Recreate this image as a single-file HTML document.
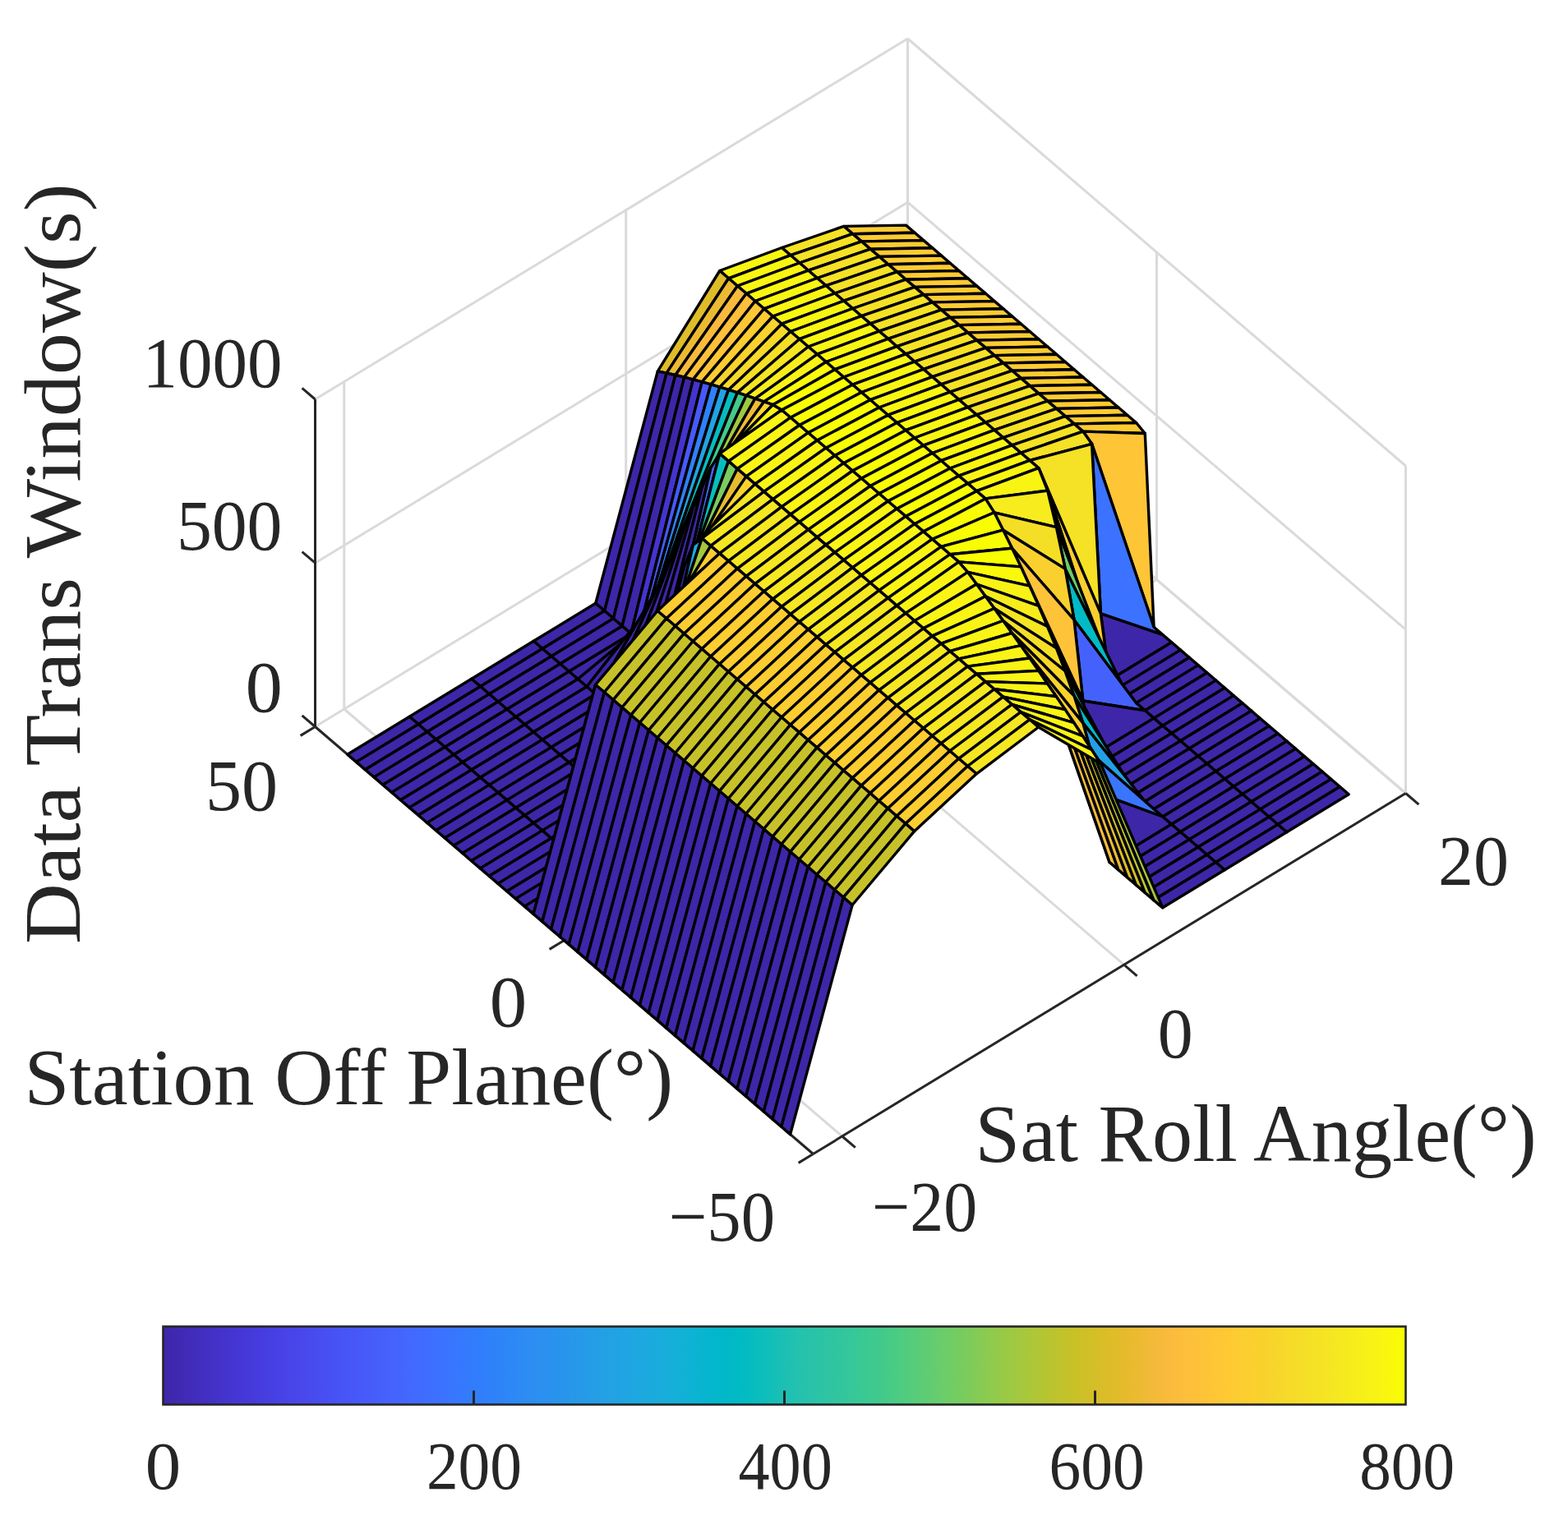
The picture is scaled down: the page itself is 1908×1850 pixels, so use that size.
<!DOCTYPE html>
<html><head><meta charset="utf-8"><title>Data Trans Window</title>
<style>html,body{margin:0;padding:0;background:#fff;}svg{display:block;}</style></head>
<body><svg xmlns="http://www.w3.org/2000/svg" width="1908" height="1850" viewBox="0 0 1908 1850">
<rect width="1908" height="1850" fill="#fff"/>
<line x1="383.5" y1="884.5" x2="1104.5" y2="445.5" stroke="#dadada" stroke-width="3.00"/>
<line x1="383.5" y1="685.2" x2="1104.5" y2="246.2" stroke="#dadada" stroke-width="3.00"/>
<line x1="383.5" y1="486.0" x2="1104.5" y2="47.0" stroke="#dadada" stroke-width="3.00"/>
<line x1="418.8" y1="863.0" x2="418.8" y2="464.5" stroke="#dadada" stroke-width="3.00"/>
<line x1="761.7" y1="654.2" x2="761.7" y2="255.7" stroke="#dadada" stroke-width="3.00"/>
<line x1="1104.5" y1="445.5" x2="1104.5" y2="47.0" stroke="#dadada" stroke-width="3.00"/>
<line x1="1104.5" y1="445.5" x2="1710.5" y2="965.5" stroke="#dadada" stroke-width="3.00"/>
<line x1="1104.5" y1="246.2" x2="1710.5" y2="766.2" stroke="#dadada" stroke-width="3.00"/>
<line x1="1104.5" y1="47.0" x2="1710.5" y2="567.0" stroke="#dadada" stroke-width="3.00"/>
<line x1="1407.5" y1="705.5" x2="1407.5" y2="307.0" stroke="#dadada" stroke-width="3.00"/>
<line x1="1710.5" y1="965.5" x2="1710.5" y2="567.0" stroke="#dadada" stroke-width="3.00"/>
<line x1="686.5" y1="1144.5" x2="1407.5" y2="705.5" stroke="#dadada" stroke-width="3.00"/>
<line x1="418.8" y1="863.0" x2="1024.8" y2="1383.0" stroke="#dadada" stroke-width="3.00"/>
<line x1="761.7" y1="654.2" x2="1367.7" y2="1174.2" stroke="#dadada" stroke-width="3.00"/>
<line x1="1104.5" y1="445.5" x2="1710.5" y2="965.5" stroke="#dadada" stroke-width="3.00"/>
<line x1="383.5" y1="884.5" x2="383.5" y2="486.0" stroke="#262626" stroke-width="3.00"/>
<line x1="383.5" y1="884.5" x2="989.5" y2="1404.5" stroke="#262626" stroke-width="3.00"/>
<line x1="989.5" y1="1404.5" x2="1710.5" y2="965.5" stroke="#262626" stroke-width="3.00"/>
<line x1="383.5" y1="884.5" x2="367.6" y2="870.8" stroke="#262626" stroke-width="3.00"/>
<line x1="383.5" y1="685.2" x2="367.6" y2="671.6" stroke="#262626" stroke-width="3.00"/>
<line x1="383.5" y1="486.0" x2="367.6" y2="472.3" stroke="#262626" stroke-width="3.00"/>
<line x1="383.5" y1="884.5" x2="365.6" y2="895.4" stroke="#262626" stroke-width="3.00"/>
<line x1="686.5" y1="1144.5" x2="668.6" y2="1155.4" stroke="#262626" stroke-width="3.00"/>
<line x1="989.5" y1="1404.5" x2="971.6" y2="1415.4" stroke="#262626" stroke-width="3.00"/>
<line x1="1024.8" y1="1383.0" x2="1040.8" y2="1396.7" stroke="#262626" stroke-width="3.00"/>
<line x1="1367.7" y1="1174.2" x2="1383.6" y2="1187.9" stroke="#262626" stroke-width="3.00"/>
<line x1="1710.5" y1="965.5" x2="1726.4" y2="979.2" stroke="#262626" stroke-width="3.00"/>
<polygon points="1026.9,275.4 1037.6,284.7 1113.1,283.3 1102.4,274.1" fill="#fdcb31" stroke="#000" stroke-width="3.4" stroke-linejoin="round"/>
<polygon points="1037.6,284.7 1048.4,293.9 1123.9,292.6 1113.1,283.3" fill="#fdcb31" stroke="#000" stroke-width="3.4" stroke-linejoin="round"/>
<polygon points="1048.4,293.9 1059.2,303.2 1134.7,301.8 1123.9,292.6" fill="#fdcb31" stroke="#000" stroke-width="3.4" stroke-linejoin="round"/>
<polygon points="1059.2,303.2 1070.0,312.4 1145.5,311.1 1134.7,301.8" fill="#fdcb31" stroke="#000" stroke-width="3.4" stroke-linejoin="round"/>
<polygon points="1070.0,312.4 1080.7,321.7 1156.2,320.3 1145.5,311.1" fill="#fdcb31" stroke="#000" stroke-width="3.4" stroke-linejoin="round"/>
<polygon points="951.3,301.5 962.1,310.7 1037.6,284.7 1026.9,275.4" fill="#f5e125" stroke="#000" stroke-width="3.4" stroke-linejoin="round"/>
<polygon points="1080.7,321.7 1091.5,330.9 1167.0,329.6 1156.2,320.3" fill="#fdcb31" stroke="#000" stroke-width="3.4" stroke-linejoin="round"/>
<polygon points="962.1,310.7 972.9,320.0 1048.4,293.9 1037.6,284.7" fill="#f5e125" stroke="#000" stroke-width="3.4" stroke-linejoin="round"/>
<polygon points="1091.5,330.9 1102.3,340.2 1177.8,338.8 1167.0,329.6" fill="#fdcb31" stroke="#000" stroke-width="3.4" stroke-linejoin="round"/>
<polygon points="972.9,320.0 983.7,329.2 1059.2,303.2 1048.4,293.9" fill="#f5e125" stroke="#000" stroke-width="3.4" stroke-linejoin="round"/>
<polygon points="1102.3,340.2 1113.1,349.4 1188.6,348.1 1177.8,338.8" fill="#fdcb31" stroke="#000" stroke-width="3.4" stroke-linejoin="round"/>
<polygon points="983.7,329.2 994.4,338.5 1070.0,312.4 1059.2,303.2" fill="#f5e125" stroke="#000" stroke-width="3.4" stroke-linejoin="round"/>
<polygon points="1113.1,349.4 1123.8,358.6 1199.4,357.3 1188.6,348.1" fill="#fdcb31" stroke="#000" stroke-width="3.4" stroke-linejoin="round"/>
<polygon points="994.4,338.5 1005.2,347.7 1080.7,321.7 1070.0,312.4" fill="#f5e125" stroke="#000" stroke-width="3.4" stroke-linejoin="round"/>
<polygon points="1123.8,358.6 1134.6,367.9 1210.1,366.6 1199.4,357.3" fill="#fdcb31" stroke="#000" stroke-width="3.4" stroke-linejoin="round"/>
<polygon points="875.8,329.5 886.6,338.8 962.1,310.7 951.3,301.5" fill="#f9f512" stroke="#000" stroke-width="3.4" stroke-linejoin="round"/>
<polygon points="1005.2,347.7 1016.0,357.0 1091.5,330.9 1080.7,321.7" fill="#f5e125" stroke="#000" stroke-width="3.4" stroke-linejoin="round"/>
<polygon points="1134.6,367.9 1145.4,377.1 1220.9,375.8 1210.1,366.6" fill="#fdcb31" stroke="#000" stroke-width="3.4" stroke-linejoin="round"/>
<polygon points="886.6,338.8 897.4,348.0 972.9,320.0 962.1,310.7" fill="#f9f512" stroke="#000" stroke-width="3.4" stroke-linejoin="round"/>
<polygon points="1016.0,357.0 1026.8,366.2 1102.3,340.2 1091.5,330.9" fill="#f5e125" stroke="#000" stroke-width="3.4" stroke-linejoin="round"/>
<polygon points="1145.4,377.1 1156.2,386.4 1231.7,385.0 1220.9,375.8" fill="#fdcb31" stroke="#000" stroke-width="3.4" stroke-linejoin="round"/>
<polygon points="897.4,348.0 908.2,357.3 983.7,329.2 972.9,320.0" fill="#f9f512" stroke="#000" stroke-width="3.4" stroke-linejoin="round"/>
<polygon points="1026.8,366.2 1037.6,375.5 1113.1,349.4 1102.3,340.2" fill="#f5e125" stroke="#000" stroke-width="3.4" stroke-linejoin="round"/>
<polygon points="1156.2,386.4 1167.0,395.6 1242.5,394.3 1231.7,385.0" fill="#fdcb31" stroke="#000" stroke-width="3.4" stroke-linejoin="round"/>
<polygon points="908.2,357.3 918.9,366.5 994.4,338.5 983.7,329.2" fill="#f9f512" stroke="#000" stroke-width="3.4" stroke-linejoin="round"/>
<polygon points="1037.6,375.5 1048.3,384.7 1123.8,358.6 1113.1,349.4" fill="#f5e125" stroke="#000" stroke-width="3.4" stroke-linejoin="round"/>
<polygon points="1167.0,395.6 1177.7,404.9 1253.2,403.5 1242.5,394.3" fill="#fdcb31" stroke="#000" stroke-width="3.4" stroke-linejoin="round"/>
<polygon points="918.9,366.5 929.7,375.8 1005.2,347.7 994.4,338.5" fill="#f9f512" stroke="#000" stroke-width="3.4" stroke-linejoin="round"/>
<polygon points="1048.3,384.7 1059.1,393.9 1134.6,367.9 1123.8,358.6" fill="#f5e125" stroke="#000" stroke-width="3.4" stroke-linejoin="round"/>
<polygon points="1177.7,404.9 1188.5,414.1 1264.0,412.8 1253.2,403.5" fill="#fdcb31" stroke="#000" stroke-width="3.4" stroke-linejoin="round"/>
<polygon points="800.3,451.9 811.1,454.1 886.6,338.8 875.8,329.5" fill="#dfbc29" stroke="#000" stroke-width="3.4" stroke-linejoin="round"/>
<polygon points="929.7,375.8 940.5,385.0 1016.0,357.0 1005.2,347.7" fill="#f9f512" stroke="#000" stroke-width="3.4" stroke-linejoin="round"/>
<polygon points="1059.1,393.9 1069.9,403.2 1145.4,377.1 1134.6,367.9" fill="#f5e125" stroke="#000" stroke-width="3.4" stroke-linejoin="round"/>
<polygon points="1188.5,414.1 1199.3,423.4 1274.8,422.0 1264.0,412.8" fill="#fdcb31" stroke="#000" stroke-width="3.4" stroke-linejoin="round"/>
<polygon points="811.1,454.1 821.9,456.5 897.4,348.0 886.6,338.8" fill="#ecba32" stroke="#000" stroke-width="3.4" stroke-linejoin="round"/>
<polygon points="940.5,385.0 951.3,394.2 1026.8,366.2 1016.0,357.0" fill="#f9f512" stroke="#000" stroke-width="3.4" stroke-linejoin="round"/>
<polygon points="1069.9,403.2 1080.7,412.4 1156.2,386.4 1145.4,377.1" fill="#f5e125" stroke="#000" stroke-width="3.4" stroke-linejoin="round"/>
<polygon points="1199.3,423.4 1210.1,432.6 1285.6,431.3 1274.8,422.0" fill="#fdcb31" stroke="#000" stroke-width="3.4" stroke-linejoin="round"/>
<polygon points="821.9,456.5 832.7,459.1 908.2,357.3 897.4,348.0" fill="#f8ba3d" stroke="#000" stroke-width="3.4" stroke-linejoin="round"/>
<polygon points="951.3,394.2 962.0,403.5 1037.6,375.5 1026.8,366.2" fill="#f9f512" stroke="#000" stroke-width="3.4" stroke-linejoin="round"/>
<polygon points="1080.7,412.4 1091.4,421.7 1167.0,395.6 1156.2,386.4" fill="#f5e125" stroke="#000" stroke-width="3.4" stroke-linejoin="round"/>
<polygon points="1210.1,432.6 1220.8,441.9 1296.3,440.5 1285.6,431.3" fill="#fdcb31" stroke="#000" stroke-width="3.4" stroke-linejoin="round"/>
<polygon points="832.7,459.1 843.4,461.9 918.9,366.5 908.2,357.3" fill="#febf3b" stroke="#000" stroke-width="3.4" stroke-linejoin="round"/>
<polygon points="962.0,403.5 972.8,412.7 1048.3,384.7 1037.6,375.5" fill="#f9f512" stroke="#000" stroke-width="3.4" stroke-linejoin="round"/>
<polygon points="1091.4,421.7 1102.2,430.9 1177.7,404.9 1167.0,395.6" fill="#f5e125" stroke="#000" stroke-width="3.4" stroke-linejoin="round"/>
<polygon points="1220.8,441.9 1231.6,451.1 1307.1,449.8 1296.3,440.5" fill="#fdcb31" stroke="#000" stroke-width="3.4" stroke-linejoin="round"/>
<polygon points="843.4,461.9 854.2,464.8 929.7,375.8 918.9,366.5" fill="#fec636" stroke="#000" stroke-width="3.4" stroke-linejoin="round"/>
<polygon points="972.8,412.7 983.6,422.0 1059.1,393.9 1048.3,384.7" fill="#f9f512" stroke="#000" stroke-width="3.4" stroke-linejoin="round"/>
<polygon points="1102.2,430.9 1113.0,440.2 1188.5,414.1 1177.7,404.9" fill="#f5e125" stroke="#000" stroke-width="3.4" stroke-linejoin="round"/>
<polygon points="1231.6,451.1 1242.4,460.4 1317.9,459.0 1307.1,449.8" fill="#fdcb31" stroke="#000" stroke-width="3.4" stroke-linejoin="round"/>
<polygon points="724.8,734.3 735.6,743.5 811.1,454.1 800.3,451.9" fill="#3e26a8" stroke="#000" stroke-width="3.4" stroke-linejoin="round"/>
<polygon points="854.2,464.8 865.0,467.9 940.5,385.0 929.7,375.8" fill="#fdcc31" stroke="#000" stroke-width="3.4" stroke-linejoin="round"/>
<polygon points="983.6,422.0 994.4,431.2 1069.9,403.2 1059.1,393.9" fill="#f9f512" stroke="#000" stroke-width="3.4" stroke-linejoin="round"/>
<polygon points="1113.0,440.2 1123.8,449.4 1199.3,423.4 1188.5,414.1" fill="#f5e125" stroke="#000" stroke-width="3.4" stroke-linejoin="round"/>
<polygon points="1242.4,460.4 1253.2,469.6 1328.7,468.3 1317.9,459.0" fill="#fdcb31" stroke="#000" stroke-width="3.4" stroke-linejoin="round"/>
<polygon points="735.6,743.5 746.4,752.8 821.9,456.5 811.1,454.1" fill="#3e26a8" stroke="#000" stroke-width="3.4" stroke-linejoin="round"/>
<polygon points="865.0,467.9 875.8,471.1 951.3,394.2 940.5,385.0" fill="#f9d22d" stroke="#000" stroke-width="3.4" stroke-linejoin="round"/>
<polygon points="994.4,431.2 1005.2,440.5 1080.7,412.4 1069.9,403.2" fill="#f9f512" stroke="#000" stroke-width="3.4" stroke-linejoin="round"/>
<polygon points="1123.8,449.4 1134.6,458.7 1210.1,432.6 1199.3,423.4" fill="#f5e125" stroke="#000" stroke-width="3.4" stroke-linejoin="round"/>
<polygon points="1253.2,469.6 1263.9,478.9 1339.5,477.5 1328.7,468.3" fill="#fdcb31" stroke="#000" stroke-width="3.4" stroke-linejoin="round"/>
<polygon points="746.4,752.8 757.1,762.0 832.7,459.1 821.9,456.5" fill="#3e26a8" stroke="#000" stroke-width="3.4" stroke-linejoin="round"/>
<polygon points="875.8,471.1 886.5,474.4 962.0,403.5 951.3,394.2" fill="#f6d929" stroke="#000" stroke-width="3.4" stroke-linejoin="round"/>
<polygon points="1005.2,440.5 1015.9,449.7 1091.4,421.7 1080.7,412.4" fill="#f9f512" stroke="#000" stroke-width="3.4" stroke-linejoin="round"/>
<polygon points="1134.6,458.7 1145.3,467.9 1220.8,441.9 1210.1,432.6" fill="#f5e125" stroke="#000" stroke-width="3.4" stroke-linejoin="round"/>
<polygon points="1263.9,478.9 1274.7,488.1 1350.2,486.8 1339.5,477.5" fill="#fdcb31" stroke="#000" stroke-width="3.4" stroke-linejoin="round"/>
<polygon points="757.1,762.0 767.9,771.3 843.4,461.9 832.7,459.1" fill="#3e26a8" stroke="#000" stroke-width="3.4" stroke-linejoin="round"/>
<polygon points="886.5,474.4 897.3,477.9 972.8,412.7 962.0,403.5" fill="#f5df26" stroke="#000" stroke-width="3.4" stroke-linejoin="round"/>
<polygon points="1015.9,449.7 1026.7,459.0 1102.2,430.9 1091.4,421.7" fill="#f9f512" stroke="#000" stroke-width="3.4" stroke-linejoin="round"/>
<polygon points="1145.3,467.9 1156.1,477.2 1231.6,451.1 1220.8,441.9" fill="#f5e125" stroke="#000" stroke-width="3.4" stroke-linejoin="round"/>
<polygon points="1274.7,488.1 1285.5,497.4 1361.0,496.0 1350.2,486.8" fill="#fdcb31" stroke="#000" stroke-width="3.4" stroke-linejoin="round"/>
<polygon points="767.9,771.3 778.7,764.1 854.2,464.8 843.4,461.9" fill="#4434ce" stroke="#000" stroke-width="3.4" stroke-linejoin="round"/>
<polygon points="897.3,477.9 908.1,481.4 983.6,422.0 972.8,412.7" fill="#f5e622" stroke="#000" stroke-width="3.4" stroke-linejoin="round"/>
<polygon points="1026.7,459.0 1037.5,468.2 1113.0,440.2 1102.2,430.9" fill="#f9f512" stroke="#000" stroke-width="3.4" stroke-linejoin="round"/>
<polygon points="1156.1,477.2 1166.9,486.4 1242.4,460.4 1231.6,451.1" fill="#f5e125" stroke="#000" stroke-width="3.4" stroke-linejoin="round"/>
<polygon points="1285.5,497.4 1296.3,506.6 1371.8,505.3 1361.0,496.0" fill="#fdcb31" stroke="#000" stroke-width="3.4" stroke-linejoin="round"/>
<polygon points="649.3,780.3 660.1,789.5 735.6,743.5 724.8,734.3" fill="#3e26a8" stroke="#000" stroke-width="3.4" stroke-linejoin="round"/>
<polygon points="778.7,764.1 789.5,739.7 865.0,467.9 854.2,464.8" fill="#4759f8" stroke="#000" stroke-width="3.4" stroke-linejoin="round"/>
<polygon points="908.1,481.4 918.9,485.1 994.4,431.2 983.6,422.0" fill="#f7ec1d" stroke="#000" stroke-width="3.4" stroke-linejoin="round"/>
<polygon points="1037.5,468.2 1048.3,477.5 1123.8,449.4 1113.0,440.2" fill="#f9f512" stroke="#000" stroke-width="3.4" stroke-linejoin="round"/>
<polygon points="1166.9,486.4 1177.7,495.7 1253.2,469.6 1242.4,460.4" fill="#f5e125" stroke="#000" stroke-width="3.4" stroke-linejoin="round"/>
<polygon points="1296.3,506.6 1307.1,515.9 1382.6,514.5 1371.8,505.3" fill="#fdcb31" stroke="#000" stroke-width="3.4" stroke-linejoin="round"/>
<polygon points="660.1,789.5 670.9,798.8 746.4,752.8 735.6,743.5" fill="#3e26a8" stroke="#000" stroke-width="3.4" stroke-linejoin="round"/>
<polygon points="789.5,739.7 800.2,715.4 875.8,471.1 865.0,467.9" fill="#2f81fa" stroke="#000" stroke-width="3.4" stroke-linejoin="round"/>
<polygon points="918.9,485.1 929.6,488.9 1005.2,440.5 994.4,431.2" fill="#f9f216" stroke="#000" stroke-width="3.4" stroke-linejoin="round"/>
<polygon points="1048.3,477.5 1059.0,486.7 1134.6,458.7 1123.8,449.4" fill="#f9f512" stroke="#000" stroke-width="3.4" stroke-linejoin="round"/>
<polygon points="1177.7,495.7 1188.4,504.9 1263.9,478.9 1253.2,469.6" fill="#f5e125" stroke="#000" stroke-width="3.4" stroke-linejoin="round"/>
<polygon points="1307.1,515.9 1317.8,525.1 1393.3,527.5 1382.6,514.5" fill="#fdcb31" stroke="#000" stroke-width="3.4" stroke-linejoin="round"/>
<polygon points="670.9,798.8 681.6,808.0 757.1,762.0 746.4,752.8" fill="#3e26a8" stroke="#000" stroke-width="3.4" stroke-linejoin="round"/>
<polygon points="800.2,715.4 811.0,691.0 886.5,474.4 875.8,471.1" fill="#21a3e3" stroke="#000" stroke-width="3.4" stroke-linejoin="round"/>
<polygon points="929.6,488.9 940.4,492.7 1015.9,449.7 1005.2,440.5" fill="#faf90c" stroke="#000" stroke-width="3.4" stroke-linejoin="round"/>
<polygon points="1059.0,486.7 1069.8,496.0 1145.3,467.9 1134.6,458.7" fill="#f9f512" stroke="#000" stroke-width="3.4" stroke-linejoin="round"/>
<polygon points="1188.4,504.9 1199.2,514.2 1274.7,488.1 1263.9,478.9" fill="#f5e125" stroke="#000" stroke-width="3.4" stroke-linejoin="round"/>
<polygon points="1317.8,525.1 1328.6,540.3 1404.1,763.3 1393.3,527.5" fill="#fec536" stroke="#000" stroke-width="3.4" stroke-linejoin="round"/>
<polygon points="681.6,808.0 692.4,817.3 767.9,771.3 757.1,762.0" fill="#3e26a8" stroke="#000" stroke-width="3.4" stroke-linejoin="round"/>
<polygon points="811.0,691.0 821.8,666.7 897.3,477.9 886.5,474.4" fill="#05bcc0" stroke="#000" stroke-width="3.4" stroke-linejoin="round"/>
<polygon points="940.4,492.7 951.2,499.0 1026.7,459.0 1015.9,449.7" fill="#f9fd03" stroke="#000" stroke-width="3.4" stroke-linejoin="round"/>
<polygon points="1069.8,496.0 1080.6,505.2 1156.1,477.2 1145.3,467.9" fill="#f9f512" stroke="#000" stroke-width="3.4" stroke-linejoin="round"/>
<polygon points="1199.2,514.2 1210.0,523.4 1285.5,497.4 1274.7,488.1" fill="#f5e125" stroke="#000" stroke-width="3.4" stroke-linejoin="round"/>
<polygon points="1328.6,540.3 1339.4,746.8 1414.9,772.6 1404.1,763.3" fill="#3b72ff" stroke="#000" stroke-width="3.4" stroke-linejoin="round"/>
<polygon points="692.4,817.3 703.2,826.5 778.7,764.1 767.9,771.3" fill="#3e26a8" stroke="#000" stroke-width="3.4" stroke-linejoin="round"/>
<polygon points="821.8,666.7 832.6,642.4 908.1,481.4 897.3,477.9" fill="#42ca8b" stroke="#000" stroke-width="3.4" stroke-linejoin="round"/>
<polygon points="951.2,499.0 962.0,508.2 1037.5,468.2 1026.7,459.0" fill="#f9fd03" stroke="#000" stroke-width="3.4" stroke-linejoin="round"/>
<polygon points="1080.6,505.2 1091.4,514.5 1166.9,486.4 1156.1,477.2" fill="#f9f512" stroke="#000" stroke-width="3.4" stroke-linejoin="round"/>
<polygon points="1210.0,523.4 1220.8,532.7 1296.3,506.6 1285.5,497.4" fill="#f5e125" stroke="#000" stroke-width="3.4" stroke-linejoin="round"/>
<polygon points="1339.4,746.8 1350.2,827.8 1425.7,781.8 1414.9,772.6" fill="#3e26a8" stroke="#000" stroke-width="3.4" stroke-linejoin="round"/>
<polygon points="573.8,826.2 584.6,835.5 660.1,789.5 649.3,780.3" fill="#3e26a8" stroke="#000" stroke-width="3.4" stroke-linejoin="round"/>
<polygon points="703.2,826.5 714.0,835.8 789.5,739.7 778.7,764.1" fill="#3e26a8" stroke="#000" stroke-width="3.4" stroke-linejoin="round"/>
<polygon points="832.6,642.4 843.4,618.0 918.9,485.1 908.1,481.4" fill="#9fc942" stroke="#000" stroke-width="3.4" stroke-linejoin="round"/>
<polygon points="962.0,508.2 972.8,517.5 1048.3,477.5 1037.5,468.2" fill="#f9fd03" stroke="#000" stroke-width="3.4" stroke-linejoin="round"/>
<polygon points="1091.4,514.5 1102.1,523.7 1177.7,495.7 1166.9,486.4" fill="#f9f512" stroke="#000" stroke-width="3.4" stroke-linejoin="round"/>
<polygon points="1220.8,532.7 1231.5,541.9 1307.1,515.9 1296.3,506.6" fill="#f5e125" stroke="#000" stroke-width="3.4" stroke-linejoin="round"/>
<polygon points="1350.2,827.8 1360.9,837.1 1436.5,791.1 1425.7,781.8" fill="#3e26a8" stroke="#000" stroke-width="3.4" stroke-linejoin="round"/>
<polygon points="584.6,835.5 595.3,844.7 670.9,798.8 660.1,789.5" fill="#3e26a8" stroke="#000" stroke-width="3.4" stroke-linejoin="round"/>
<polygon points="714.0,835.8 724.7,845.0 800.2,715.4 789.5,739.7" fill="#3e26a8" stroke="#000" stroke-width="3.4" stroke-linejoin="round"/>
<polygon points="843.4,618.0 854.1,593.7 929.6,488.9 918.9,485.1" fill="#efba34" stroke="#000" stroke-width="3.4" stroke-linejoin="round"/>
<polygon points="972.8,517.5 983.5,526.7 1059.0,486.7 1048.3,477.5" fill="#f9fd03" stroke="#000" stroke-width="3.4" stroke-linejoin="round"/>
<polygon points="1102.1,523.7 1112.9,533.0 1188.4,504.9 1177.7,495.7" fill="#f9f512" stroke="#000" stroke-width="3.4" stroke-linejoin="round"/>
<polygon points="1231.5,541.9 1242.3,551.2 1317.8,525.1 1307.1,515.9" fill="#f5e125" stroke="#000" stroke-width="3.4" stroke-linejoin="round"/>
<polygon points="1360.9,837.1 1371.7,846.3 1447.2,800.3 1436.5,791.1" fill="#3e26a8" stroke="#000" stroke-width="3.4" stroke-linejoin="round"/>
<polygon points="595.3,844.7 606.1,854.0 681.6,808.0 670.9,798.8" fill="#3e26a8" stroke="#000" stroke-width="3.4" stroke-linejoin="round"/>
<polygon points="724.7,845.0 735.5,854.2 811.0,691.0 800.2,715.4" fill="#3e26a8" stroke="#000" stroke-width="3.4" stroke-linejoin="round"/>
<polygon points="854.1,593.7 864.9,569.3 940.4,492.7 929.6,488.9" fill="#f8d62b" stroke="#000" stroke-width="3.4" stroke-linejoin="round"/>
<polygon points="983.5,526.7 994.3,536.0 1069.8,496.0 1059.0,486.7" fill="#f9fd03" stroke="#000" stroke-width="3.4" stroke-linejoin="round"/>
<polygon points="1112.9,533.0 1123.7,542.2 1199.2,514.2 1188.4,504.9" fill="#f9f512" stroke="#000" stroke-width="3.4" stroke-linejoin="round"/>
<polygon points="1242.3,551.2 1253.1,560.4 1328.6,540.3 1317.8,525.1" fill="#f5e125" stroke="#000" stroke-width="3.4" stroke-linejoin="round"/>
<polygon points="1371.7,846.3 1382.5,855.6 1458.0,809.6 1447.2,800.3" fill="#3e26a8" stroke="#000" stroke-width="3.4" stroke-linejoin="round"/>
<polygon points="606.1,854.0 616.9,863.2 692.4,817.3 681.6,808.0" fill="#3e26a8" stroke="#000" stroke-width="3.4" stroke-linejoin="round"/>
<polygon points="735.5,854.2 746.3,863.5 821.8,666.7 811.0,691.0" fill="#3e26a8" stroke="#000" stroke-width="3.4" stroke-linejoin="round"/>
<polygon points="864.9,569.3 875.7,552.1 951.2,499.0 940.4,492.7" fill="#f9f414" stroke="#000" stroke-width="3.4" stroke-linejoin="round"/>
<polygon points="994.3,536.0 1005.1,545.2 1080.6,505.2 1069.8,496.0" fill="#f9fd03" stroke="#000" stroke-width="3.4" stroke-linejoin="round"/>
<polygon points="1123.7,542.2 1134.5,551.5 1210.0,523.4 1199.2,514.2" fill="#f9f512" stroke="#000" stroke-width="3.4" stroke-linejoin="round"/>
<polygon points="1253.1,560.4 1263.9,569.7 1339.4,746.8 1328.6,540.3" fill="#f5e125" stroke="#000" stroke-width="3.4" stroke-linejoin="round"/>
<polygon points="1382.5,855.6 1393.3,864.8 1468.8,818.8 1458.0,809.6" fill="#3e26a8" stroke="#000" stroke-width="3.4" stroke-linejoin="round"/>
<polygon points="616.9,863.2 627.7,872.5 703.2,826.5 692.4,817.3" fill="#3e26a8" stroke="#000" stroke-width="3.4" stroke-linejoin="round"/>
<polygon points="746.3,863.5 757.1,872.7 832.6,642.4 821.8,666.7" fill="#3e26a8" stroke="#000" stroke-width="3.4" stroke-linejoin="round"/>
<polygon points="875.7,552.1 886.5,561.4 962.0,508.2 951.2,499.0" fill="#f9f414" stroke="#000" stroke-width="3.4" stroke-linejoin="round"/>
<polygon points="1005.1,545.2 1015.9,554.5 1091.4,514.5 1080.6,505.2" fill="#f9fd03" stroke="#000" stroke-width="3.4" stroke-linejoin="round"/>
<polygon points="1134.5,551.5 1145.3,560.7 1220.8,532.7 1210.0,523.4" fill="#f9f512" stroke="#000" stroke-width="3.4" stroke-linejoin="round"/>
<polygon points="1263.9,569.7 1274.7,597.1 1350.2,827.8 1339.4,746.8" fill="#fccd30" stroke="#000" stroke-width="3.4" stroke-linejoin="round"/>
<polygon points="1393.3,864.8 1404.1,874.1 1479.6,828.1 1468.8,818.8" fill="#3e26a8" stroke="#000" stroke-width="3.4" stroke-linejoin="round"/>
<polygon points="498.3,872.2 509.1,881.5 584.6,835.5 573.8,826.2" fill="#3e26a8" stroke="#000" stroke-width="3.4" stroke-linejoin="round"/>
<polygon points="627.7,872.5 638.5,881.7 714.0,835.8 703.2,826.5" fill="#3e26a8" stroke="#000" stroke-width="3.4" stroke-linejoin="round"/>
<polygon points="757.1,872.7 767.8,882.0 843.4,618.0 832.6,642.4" fill="#3e26a8" stroke="#000" stroke-width="3.4" stroke-linejoin="round"/>
<polygon points="886.5,561.4 897.2,570.6 972.8,517.5 962.0,508.2" fill="#f9f414" stroke="#000" stroke-width="3.4" stroke-linejoin="round"/>
<polygon points="1015.9,554.5 1026.6,563.7 1102.1,523.7 1091.4,514.5" fill="#f9fd03" stroke="#000" stroke-width="3.4" stroke-linejoin="round"/>
<polygon points="1145.3,560.7 1156.0,570.0 1231.5,541.9 1220.8,532.7" fill="#f9f512" stroke="#000" stroke-width="3.4" stroke-linejoin="round"/>
<polygon points="1274.7,597.1 1285.4,641.7 1360.9,837.1 1350.2,827.8" fill="#dabd28" stroke="#000" stroke-width="3.4" stroke-linejoin="round"/>
<polygon points="1404.1,874.1 1414.8,883.3 1490.3,837.3 1479.6,828.1" fill="#3e26a8" stroke="#000" stroke-width="3.4" stroke-linejoin="round"/>
<polygon points="509.1,881.5 519.8,890.7 595.3,844.7 584.6,835.5" fill="#3e26a8" stroke="#000" stroke-width="3.4" stroke-linejoin="round"/>
<polygon points="638.5,881.7 649.2,891.0 724.7,845.0 714.0,835.8" fill="#3e26a8" stroke="#000" stroke-width="3.4" stroke-linejoin="round"/>
<polygon points="767.8,882.0 778.6,891.2 854.1,593.7 843.4,618.0" fill="#3e26a8" stroke="#000" stroke-width="3.4" stroke-linejoin="round"/>
<polygon points="897.2,570.6 908.0,579.9 983.5,526.7 972.8,517.5" fill="#f9f414" stroke="#000" stroke-width="3.4" stroke-linejoin="round"/>
<polygon points="1026.6,563.7 1037.4,573.0 1112.9,533.0 1102.1,523.7" fill="#f9fd03" stroke="#000" stroke-width="3.4" stroke-linejoin="round"/>
<polygon points="1156.0,570.0 1166.8,579.2 1242.3,551.2 1231.5,541.9" fill="#f9f512" stroke="#000" stroke-width="3.4" stroke-linejoin="round"/>
<polygon points="1285.4,641.7 1296.2,692.4 1371.7,846.3 1360.9,837.1" fill="#69cd6a" stroke="#000" stroke-width="3.4" stroke-linejoin="round"/>
<polygon points="1414.8,883.3 1425.6,892.5 1501.1,846.6 1490.3,837.3" fill="#3e26a8" stroke="#000" stroke-width="3.4" stroke-linejoin="round"/>
<polygon points="519.8,890.7 530.6,900.0 606.1,854.0 595.3,844.7" fill="#3e26a8" stroke="#000" stroke-width="3.4" stroke-linejoin="round"/>
<polygon points="649.2,891.0 660.0,900.2 735.5,854.2 724.7,845.0" fill="#3e26a8" stroke="#000" stroke-width="3.4" stroke-linejoin="round"/>
<polygon points="778.6,891.2 789.4,900.5 864.9,569.3 854.1,593.7" fill="#3e26a8" stroke="#000" stroke-width="3.4" stroke-linejoin="round"/>
<polygon points="908.0,579.9 918.8,589.1 994.3,536.0 983.5,526.7" fill="#f9f414" stroke="#000" stroke-width="3.4" stroke-linejoin="round"/>
<polygon points="1037.4,573.0 1048.2,582.2 1123.7,542.2 1112.9,533.0" fill="#f9fd03" stroke="#000" stroke-width="3.4" stroke-linejoin="round"/>
<polygon points="1166.8,579.2 1177.6,588.4 1253.1,560.4 1242.3,551.2" fill="#f9f512" stroke="#000" stroke-width="3.4" stroke-linejoin="round"/>
<polygon points="1296.2,692.4 1307.0,754.4 1382.5,855.6 1371.7,846.3" fill="#01bac5" stroke="#000" stroke-width="3.4" stroke-linejoin="round"/>
<polygon points="1425.6,892.5 1436.4,901.8 1511.9,855.8 1501.1,846.6" fill="#3e26a8" stroke="#000" stroke-width="3.4" stroke-linejoin="round"/>
<polygon points="530.6,900.0 541.4,909.2 616.9,863.2 606.1,854.0" fill="#3e26a8" stroke="#000" stroke-width="3.4" stroke-linejoin="round"/>
<polygon points="660.0,900.2 670.8,909.5 746.3,863.5 735.5,854.2" fill="#3e26a8" stroke="#000" stroke-width="3.4" stroke-linejoin="round"/>
<polygon points="789.4,900.5 800.2,846.1 875.7,552.1 864.9,569.3" fill="#4368fe" stroke="#000" stroke-width="3.4" stroke-linejoin="round"/>
<polygon points="918.8,589.1 929.6,598.4 1005.1,545.2 994.3,536.0" fill="#f9f414" stroke="#000" stroke-width="3.4" stroke-linejoin="round"/>
<polygon points="1048.2,582.2 1059.0,591.5 1134.5,551.5 1123.7,542.2" fill="#f9fd03" stroke="#000" stroke-width="3.4" stroke-linejoin="round"/>
<polygon points="1177.6,588.4 1188.4,597.7 1263.9,569.7 1253.1,560.4" fill="#f9f512" stroke="#000" stroke-width="3.4" stroke-linejoin="round"/>
<polygon points="1307.0,754.4 1317.8,853.0 1393.3,864.8 1382.5,855.6" fill="#4561fc" stroke="#000" stroke-width="3.4" stroke-linejoin="round"/>
<polygon points="1436.4,901.8 1447.2,911.0 1522.7,865.1 1511.9,855.8" fill="#3e26a8" stroke="#000" stroke-width="3.4" stroke-linejoin="round"/>
<polygon points="541.4,909.2 552.2,918.5 627.7,872.5 616.9,863.2" fill="#3e26a8" stroke="#000" stroke-width="3.4" stroke-linejoin="round"/>
<polygon points="670.8,909.5 681.6,918.7 757.1,872.7 746.3,863.5" fill="#3e26a8" stroke="#000" stroke-width="3.4" stroke-linejoin="round"/>
<polygon points="800.2,846.1 811.0,767.0 886.5,561.4 875.7,552.1" fill="#08bcbe" stroke="#000" stroke-width="3.4" stroke-linejoin="round"/>
<polygon points="929.6,598.4 940.4,607.6 1015.9,554.5 1005.1,545.2" fill="#f9f414" stroke="#000" stroke-width="3.4" stroke-linejoin="round"/>
<polygon points="1059.0,591.5 1069.7,600.7 1145.3,560.7 1134.5,551.5" fill="#f9fd03" stroke="#000" stroke-width="3.4" stroke-linejoin="round"/>
<polygon points="1188.4,597.7 1199.1,606.9 1274.7,597.1 1263.9,569.7" fill="#f9f512" stroke="#000" stroke-width="3.4" stroke-linejoin="round"/>
<polygon points="1317.8,853.0 1328.5,920.0 1404.1,874.1 1393.3,864.8" fill="#3e26a8" stroke="#000" stroke-width="3.4" stroke-linejoin="round"/>
<polygon points="1447.2,911.0 1457.9,920.3 1533.4,874.3 1522.7,865.1" fill="#3e26a8" stroke="#000" stroke-width="3.4" stroke-linejoin="round"/>
<polygon points="422.8,918.2 433.5,927.4 509.1,881.5 498.3,872.2" fill="#3e26a8" stroke="#000" stroke-width="3.4" stroke-linejoin="round"/>
<polygon points="552.2,918.5 562.9,927.7 638.5,881.7 627.7,872.5" fill="#3e26a8" stroke="#000" stroke-width="3.4" stroke-linejoin="round"/>
<polygon points="681.6,918.7 692.3,928.0 767.8,882.0 757.1,872.7" fill="#3e26a8" stroke="#000" stroke-width="3.4" stroke-linejoin="round"/>
<polygon points="811.0,767.0 821.7,722.9 897.2,570.6 886.5,561.4" fill="#79cc5e" stroke="#000" stroke-width="3.4" stroke-linejoin="round"/>
<polygon points="940.4,607.6 951.1,616.9 1026.6,563.7 1015.9,554.5" fill="#f9f414" stroke="#000" stroke-width="3.4" stroke-linejoin="round"/>
<polygon points="1069.7,600.7 1080.5,610.0 1156.0,570.0 1145.3,560.7" fill="#f9fd03" stroke="#000" stroke-width="3.4" stroke-linejoin="round"/>
<polygon points="1199.1,606.9 1209.9,623.8 1285.4,641.7 1274.7,597.1" fill="#f7ec1d" stroke="#000" stroke-width="3.4" stroke-linejoin="round"/>
<polygon points="1328.5,920.0 1339.3,929.3 1414.8,883.3 1404.1,874.1" fill="#3e26a8" stroke="#000" stroke-width="3.4" stroke-linejoin="round"/>
<polygon points="1457.9,920.3 1468.7,929.5 1544.2,883.6 1533.4,874.3" fill="#3e26a8" stroke="#000" stroke-width="3.4" stroke-linejoin="round"/>
<polygon points="433.5,927.4 444.3,936.7 519.8,890.7 509.1,881.5" fill="#3e26a8" stroke="#000" stroke-width="3.4" stroke-linejoin="round"/>
<polygon points="562.9,927.7 573.7,937.0 649.2,891.0 638.5,881.7" fill="#3e26a8" stroke="#000" stroke-width="3.4" stroke-linejoin="round"/>
<polygon points="692.3,928.0 703.1,937.2 778.6,891.2 767.8,882.0" fill="#3e26a8" stroke="#000" stroke-width="3.4" stroke-linejoin="round"/>
<polygon points="821.7,722.9 832.5,690.1 908.0,579.9 897.2,570.6" fill="#e7bb2d" stroke="#000" stroke-width="3.4" stroke-linejoin="round"/>
<polygon points="951.1,616.9 961.9,626.1 1037.4,573.0 1026.6,563.7" fill="#f9f414" stroke="#000" stroke-width="3.4" stroke-linejoin="round"/>
<polygon points="1080.5,610.0 1091.3,619.2 1166.8,579.2 1156.0,570.0" fill="#f9fd03" stroke="#000" stroke-width="3.4" stroke-linejoin="round"/>
<polygon points="1209.9,623.8 1220.7,645.2 1296.2,692.4 1285.4,641.7" fill="#f5de26" stroke="#000" stroke-width="3.4" stroke-linejoin="round"/>
<polygon points="1339.3,929.3 1350.1,938.5 1425.6,892.5 1414.8,883.3" fill="#3e26a8" stroke="#000" stroke-width="3.4" stroke-linejoin="round"/>
<polygon points="1468.7,929.5 1479.5,938.8 1555.0,892.8 1544.2,883.6" fill="#3e26a8" stroke="#000" stroke-width="3.4" stroke-linejoin="round"/>
<polygon points="444.3,936.7 455.1,945.9 530.6,900.0 519.8,890.7" fill="#3e26a8" stroke="#000" stroke-width="3.4" stroke-linejoin="round"/>
<polygon points="573.7,937.0 584.5,946.2 660.0,900.2 649.2,891.0" fill="#3e26a8" stroke="#000" stroke-width="3.4" stroke-linejoin="round"/>
<polygon points="703.1,937.2 713.9,946.5 789.4,900.5 778.6,891.2" fill="#3e26a8" stroke="#000" stroke-width="3.4" stroke-linejoin="round"/>
<polygon points="832.5,690.1 843.3,663.4 918.8,589.1 908.0,579.9" fill="#f9d42c" stroke="#000" stroke-width="3.4" stroke-linejoin="round"/>
<polygon points="961.9,626.1 972.7,635.4 1048.2,582.2 1037.4,573.0" fill="#f9f414" stroke="#000" stroke-width="3.4" stroke-linejoin="round"/>
<polygon points="1091.3,619.2 1102.1,628.4 1177.6,588.4 1166.8,579.2" fill="#f9fd03" stroke="#000" stroke-width="3.4" stroke-linejoin="round"/>
<polygon points="1220.7,645.2 1231.5,667.3 1307.0,754.4 1296.2,692.4" fill="#fad02e" stroke="#000" stroke-width="3.4" stroke-linejoin="round"/>
<polygon points="1350.1,938.5 1360.9,947.8 1436.4,901.8 1425.6,892.5" fill="#3e26a8" stroke="#000" stroke-width="3.4" stroke-linejoin="round"/>
<polygon points="1479.5,938.8 1490.3,948.0 1565.8,902.1 1555.0,892.8" fill="#3e26a8" stroke="#000" stroke-width="3.4" stroke-linejoin="round"/>
<polygon points="455.1,945.9 465.9,955.2 541.4,909.2 530.6,900.0" fill="#3e26a8" stroke="#000" stroke-width="3.4" stroke-linejoin="round"/>
<polygon points="584.5,946.2 595.3,955.4 670.8,909.5 660.0,900.2" fill="#3e26a8" stroke="#000" stroke-width="3.4" stroke-linejoin="round"/>
<polygon points="713.9,946.5 724.7,955.7 800.2,846.1 789.4,900.5" fill="#3e26a8" stroke="#000" stroke-width="3.4" stroke-linejoin="round"/>
<polygon points="843.3,663.4 854.1,655.1 929.6,598.4 918.8,589.1" fill="#f5e721" stroke="#000" stroke-width="3.4" stroke-linejoin="round"/>
<polygon points="972.7,635.4 983.5,644.6 1059.0,591.5 1048.2,582.2" fill="#f9f414" stroke="#000" stroke-width="3.4" stroke-linejoin="round"/>
<polygon points="1102.1,628.4 1112.9,637.7 1188.4,597.7 1177.6,588.4" fill="#f9fd03" stroke="#000" stroke-width="3.4" stroke-linejoin="round"/>
<polygon points="1231.5,667.3 1242.3,689.9 1317.8,853.0 1307.0,754.4" fill="#fec338" stroke="#000" stroke-width="3.4" stroke-linejoin="round"/>
<polygon points="1360.9,947.8 1371.6,957.0 1447.2,911.0 1436.4,901.8" fill="#3e26a8" stroke="#000" stroke-width="3.4" stroke-linejoin="round"/>
<polygon points="1490.3,948.0 1501.0,957.3 1576.6,911.3 1565.8,902.1" fill="#3e26a8" stroke="#000" stroke-width="3.4" stroke-linejoin="round"/>
<polygon points="465.9,955.2 476.7,964.4 552.2,918.5 541.4,909.2" fill="#3e26a8" stroke="#000" stroke-width="3.4" stroke-linejoin="round"/>
<polygon points="595.3,955.4 606.1,964.7 681.6,918.7 670.8,909.5" fill="#3e26a8" stroke="#000" stroke-width="3.4" stroke-linejoin="round"/>
<polygon points="724.7,955.7 735.4,965.0 811.0,767.0 800.2,846.1" fill="#3e26a8" stroke="#000" stroke-width="3.4" stroke-linejoin="round"/>
<polygon points="854.1,655.1 864.8,664.4 940.4,607.6 929.6,598.4" fill="#f5e721" stroke="#000" stroke-width="3.4" stroke-linejoin="round"/>
<polygon points="983.5,644.6 994.2,653.9 1069.7,600.7 1059.0,591.5" fill="#f9f414" stroke="#000" stroke-width="3.4" stroke-linejoin="round"/>
<polygon points="1112.9,637.7 1123.6,646.9 1199.1,606.9 1188.4,597.7" fill="#f9fd03" stroke="#000" stroke-width="3.4" stroke-linejoin="round"/>
<polygon points="1242.3,689.9 1253.0,713.2 1328.5,920.0 1317.8,853.0" fill="#f1ba37" stroke="#000" stroke-width="3.4" stroke-linejoin="round"/>
<polygon points="1371.6,957.0 1382.4,966.3 1457.9,920.3 1447.2,911.0" fill="#3e26a8" stroke="#000" stroke-width="3.4" stroke-linejoin="round"/>
<polygon points="1501.0,957.3 1511.8,966.5 1587.3,920.6 1576.6,911.3" fill="#3e26a8" stroke="#000" stroke-width="3.4" stroke-linejoin="round"/>
<polygon points="476.7,964.4 487.4,973.7 562.9,927.7 552.2,918.5" fill="#3e26a8" stroke="#000" stroke-width="3.4" stroke-linejoin="round"/>
<polygon points="606.1,964.7 616.8,973.9 692.3,928.0 681.6,918.7" fill="#3e26a8" stroke="#000" stroke-width="3.4" stroke-linejoin="round"/>
<polygon points="735.4,965.0 746.2,974.2 821.7,722.9 811.0,767.0" fill="#3e26a8" stroke="#000" stroke-width="3.4" stroke-linejoin="round"/>
<polygon points="864.8,664.4 875.6,673.6 951.1,616.9 940.4,607.6" fill="#f5e721" stroke="#000" stroke-width="3.4" stroke-linejoin="round"/>
<polygon points="994.2,653.9 1005.0,663.1 1080.5,610.0 1069.7,600.7" fill="#f9f414" stroke="#000" stroke-width="3.4" stroke-linejoin="round"/>
<polygon points="1123.6,646.9 1134.4,656.2 1209.9,623.8 1199.1,606.9" fill="#f9fd03" stroke="#000" stroke-width="3.4" stroke-linejoin="round"/>
<polygon points="1253.0,713.2 1263.8,737.3 1339.3,929.3 1328.5,920.0" fill="#d3bf27" stroke="#000" stroke-width="3.4" stroke-linejoin="round"/>
<polygon points="1382.4,966.3 1393.2,975.5 1468.7,929.5 1457.9,920.3" fill="#3e26a8" stroke="#000" stroke-width="3.4" stroke-linejoin="round"/>
<polygon points="1511.8,966.5 1522.6,975.8 1598.1,929.8 1587.3,920.6" fill="#3e26a8" stroke="#000" stroke-width="3.4" stroke-linejoin="round"/>
<polygon points="487.4,973.7 498.2,982.9 573.7,937.0 562.9,927.7" fill="#3e26a8" stroke="#000" stroke-width="3.4" stroke-linejoin="round"/>
<polygon points="616.8,973.9 627.6,983.2 703.1,937.2 692.3,928.0" fill="#3e26a8" stroke="#000" stroke-width="3.4" stroke-linejoin="round"/>
<polygon points="746.2,974.2 757.0,983.5 832.5,690.1 821.7,722.9" fill="#3e26a8" stroke="#000" stroke-width="3.4" stroke-linejoin="round"/>
<polygon points="875.6,673.6 886.4,682.8 961.9,626.1 951.1,616.9" fill="#f5e721" stroke="#000" stroke-width="3.4" stroke-linejoin="round"/>
<polygon points="1005.0,663.1 1015.8,672.4 1091.3,619.2 1080.5,610.0" fill="#f9f414" stroke="#000" stroke-width="3.4" stroke-linejoin="round"/>
<polygon points="1134.4,656.2 1145.2,665.4 1220.7,645.2 1209.9,623.8" fill="#f9fd03" stroke="#000" stroke-width="3.4" stroke-linejoin="round"/>
<polygon points="1263.8,737.3 1274.6,762.5 1350.1,938.5 1339.3,929.3" fill="#aac73a" stroke="#000" stroke-width="3.4" stroke-linejoin="round"/>
<polygon points="1393.2,975.5 1404.0,984.8 1479.5,938.8 1468.7,929.5" fill="#3e26a8" stroke="#000" stroke-width="3.4" stroke-linejoin="round"/>
<polygon points="1522.6,975.8 1533.4,985.0 1608.9,939.0 1598.1,929.8" fill="#3e26a8" stroke="#000" stroke-width="3.4" stroke-linejoin="round"/>
<polygon points="498.2,982.9 509.0,992.2 584.5,946.2 573.7,937.0" fill="#3e26a8" stroke="#000" stroke-width="3.4" stroke-linejoin="round"/>
<polygon points="627.6,983.2 638.4,992.4 713.9,946.5 703.1,937.2" fill="#3e26a8" stroke="#000" stroke-width="3.4" stroke-linejoin="round"/>
<polygon points="757.0,983.5 767.8,992.7 843.3,663.4 832.5,690.1" fill="#3e26a8" stroke="#000" stroke-width="3.4" stroke-linejoin="round"/>
<polygon points="886.4,682.8 897.2,692.1 972.7,635.4 961.9,626.1" fill="#f5e721" stroke="#000" stroke-width="3.4" stroke-linejoin="round"/>
<polygon points="1015.8,672.4 1026.6,681.6 1102.1,628.4 1091.3,619.2" fill="#f9f414" stroke="#000" stroke-width="3.4" stroke-linejoin="round"/>
<polygon points="1145.2,665.4 1156.0,674.7 1231.5,667.3 1220.7,645.2" fill="#f9fd03" stroke="#000" stroke-width="3.4" stroke-linejoin="round"/>
<polygon points="1274.6,762.5 1285.4,788.9 1360.9,947.8 1350.1,938.5" fill="#78cc5f" stroke="#000" stroke-width="3.4" stroke-linejoin="round"/>
<polygon points="1404.0,984.8 1414.8,994.0 1490.3,948.0 1479.5,938.8" fill="#3e26a8" stroke="#000" stroke-width="3.4" stroke-linejoin="round"/>
<polygon points="1533.4,985.0 1544.2,994.3 1619.7,948.3 1608.9,939.0" fill="#3e26a8" stroke="#000" stroke-width="3.4" stroke-linejoin="round"/>
<polygon points="509.0,992.2 519.8,1001.4 595.3,955.4 584.5,946.2" fill="#3e26a8" stroke="#000" stroke-width="3.4" stroke-linejoin="round"/>
<polygon points="638.4,992.4 649.2,1001.7 724.7,955.7 713.9,946.5" fill="#3e26a8" stroke="#000" stroke-width="3.4" stroke-linejoin="round"/>
<polygon points="767.8,992.7 778.6,880.5 854.1,655.1 843.3,663.4" fill="#1ea7e1" stroke="#000" stroke-width="3.4" stroke-linejoin="round"/>
<polygon points="897.2,692.1 908.0,701.3 983.5,644.6 972.7,635.4" fill="#f5e721" stroke="#000" stroke-width="3.4" stroke-linejoin="round"/>
<polygon points="1026.6,681.6 1037.3,690.8 1112.9,637.7 1102.1,628.4" fill="#f9f414" stroke="#000" stroke-width="3.4" stroke-linejoin="round"/>
<polygon points="1156.0,674.7 1166.7,683.9 1242.3,689.9 1231.5,667.3" fill="#f9fd03" stroke="#000" stroke-width="3.4" stroke-linejoin="round"/>
<polygon points="1285.4,788.9 1296.1,816.8 1371.6,957.0 1360.9,947.8" fill="#46cb88" stroke="#000" stroke-width="3.4" stroke-linejoin="round"/>
<polygon points="1414.8,994.0 1425.5,1003.3 1501.0,957.3 1490.3,948.0" fill="#3e26a8" stroke="#000" stroke-width="3.4" stroke-linejoin="round"/>
<polygon points="1544.2,994.3 1554.9,1003.5 1630.4,957.5 1619.7,948.3" fill="#3e26a8" stroke="#000" stroke-width="3.4" stroke-linejoin="round"/>
<polygon points="519.8,1001.4 530.5,1010.7 606.1,964.7 595.3,955.4" fill="#3e26a8" stroke="#000" stroke-width="3.4" stroke-linejoin="round"/>
<polygon points="649.2,1001.7 659.9,1010.9 735.4,965.0 724.7,955.7" fill="#3e26a8" stroke="#000" stroke-width="3.4" stroke-linejoin="round"/>
<polygon points="778.6,880.5 789.3,790.2 864.8,664.4 854.1,655.1" fill="#a7c73b" stroke="#000" stroke-width="3.4" stroke-linejoin="round"/>
<polygon points="908.0,701.3 918.7,710.6 994.2,653.9 983.5,644.6" fill="#f5e721" stroke="#000" stroke-width="3.4" stroke-linejoin="round"/>
<polygon points="1037.3,690.8 1048.1,700.1 1123.6,646.9 1112.9,637.7" fill="#f9f414" stroke="#000" stroke-width="3.4" stroke-linejoin="round"/>
<polygon points="1166.7,683.9 1177.5,696.3 1253.0,713.2 1242.3,689.9" fill="#faf90c" stroke="#000" stroke-width="3.4" stroke-linejoin="round"/>
<polygon points="1296.1,816.8 1306.9,846.8 1382.4,966.3 1371.6,957.0" fill="#28c2ab" stroke="#000" stroke-width="3.4" stroke-linejoin="round"/>
<polygon points="1425.5,1003.3 1436.3,1012.5 1511.8,966.5 1501.0,957.3" fill="#3e26a8" stroke="#000" stroke-width="3.4" stroke-linejoin="round"/>
<polygon points="1554.9,1003.5 1565.7,1012.8 1641.2,966.8 1630.4,957.5" fill="#3e26a8" stroke="#000" stroke-width="3.4" stroke-linejoin="round"/>
<polygon points="530.5,1010.7 541.3,1019.9 616.8,973.9 606.1,964.7" fill="#3e26a8" stroke="#000" stroke-width="3.4" stroke-linejoin="round"/>
<polygon points="659.9,1010.9 670.7,1020.2 746.2,974.2 735.4,965.0" fill="#3e26a8" stroke="#000" stroke-width="3.4" stroke-linejoin="round"/>
<polygon points="789.3,790.2 800.1,743.5 875.6,673.6 864.8,664.4" fill="#fccd30" stroke="#000" stroke-width="3.4" stroke-linejoin="round"/>
<polygon points="918.7,710.6 929.5,719.8 1005.0,663.1 994.2,653.9" fill="#f5e721" stroke="#000" stroke-width="3.4" stroke-linejoin="round"/>
<polygon points="1048.1,700.1 1058.9,709.3 1134.4,656.2 1123.6,646.9" fill="#f9f414" stroke="#000" stroke-width="3.4" stroke-linejoin="round"/>
<polygon points="1177.5,696.3 1188.3,711.0 1263.8,737.3 1253.0,713.2" fill="#f9f216" stroke="#000" stroke-width="3.4" stroke-linejoin="round"/>
<polygon points="1306.9,846.8 1317.7,879.9 1393.2,975.5 1382.4,966.3" fill="#02b7cc" stroke="#000" stroke-width="3.4" stroke-linejoin="round"/>
<polygon points="1436.3,1012.5 1447.1,1021.8 1522.6,975.8 1511.8,966.5" fill="#3e26a8" stroke="#000" stroke-width="3.4" stroke-linejoin="round"/>
<polygon points="541.3,1019.9 552.1,1029.2 627.6,983.2 616.8,973.9" fill="#3e26a8" stroke="#000" stroke-width="3.4" stroke-linejoin="round"/>
<polygon points="670.7,1020.2 681.5,1029.4 757.0,983.5 746.2,974.2" fill="#3e26a8" stroke="#000" stroke-width="3.4" stroke-linejoin="round"/>
<polygon points="800.1,743.5 810.9,752.7 886.4,682.8 875.6,673.6" fill="#fccd30" stroke="#000" stroke-width="3.4" stroke-linejoin="round"/>
<polygon points="929.5,719.8 940.3,729.1 1015.8,672.4 1005.0,663.1" fill="#f5e721" stroke="#000" stroke-width="3.4" stroke-linejoin="round"/>
<polygon points="1058.9,709.3 1069.7,718.6 1145.2,665.4 1134.4,656.2" fill="#f9f414" stroke="#000" stroke-width="3.4" stroke-linejoin="round"/>
<polygon points="1188.3,711.0 1199.1,725.7 1274.6,762.5 1263.8,737.3" fill="#f6ec1d" stroke="#000" stroke-width="3.4" stroke-linejoin="round"/>
<polygon points="1317.7,879.9 1328.5,917.9 1404.0,984.8 1393.2,975.5" fill="#249fe5" stroke="#000" stroke-width="3.4" stroke-linejoin="round"/>
<polygon points="1447.1,1021.8 1457.9,1031.0 1533.4,985.0 1522.6,975.8" fill="#3e26a8" stroke="#000" stroke-width="3.4" stroke-linejoin="round"/>
<polygon points="552.1,1029.2 562.9,1038.4 638.4,992.4 627.6,983.2" fill="#3e26a8" stroke="#000" stroke-width="3.4" stroke-linejoin="round"/>
<polygon points="681.5,1029.4 692.3,1038.7 767.8,992.7 757.0,983.5" fill="#3e26a8" stroke="#000" stroke-width="3.4" stroke-linejoin="round"/>
<polygon points="810.9,752.7 821.7,762.0 897.2,692.1 886.4,682.8" fill="#fccd30" stroke="#000" stroke-width="3.4" stroke-linejoin="round"/>
<polygon points="940.3,729.1 951.1,738.3 1026.6,681.6 1015.8,672.4" fill="#f5e721" stroke="#000" stroke-width="3.4" stroke-linejoin="round"/>
<polygon points="1069.7,718.6 1080.5,727.8 1156.0,674.7 1145.2,665.4" fill="#f9f414" stroke="#000" stroke-width="3.4" stroke-linejoin="round"/>
<polygon points="1199.1,725.7 1209.9,740.5 1285.4,788.9 1274.6,762.5" fill="#f5e522" stroke="#000" stroke-width="3.4" stroke-linejoin="round"/>
<polygon points="1328.5,917.9 1339.2,966.3 1414.8,994.0 1404.0,984.8" fill="#3975fe" stroke="#000" stroke-width="3.4" stroke-linejoin="round"/>
<polygon points="1457.9,1031.0 1468.6,1040.2 1544.2,994.3 1533.4,985.0" fill="#3e26a8" stroke="#000" stroke-width="3.4" stroke-linejoin="round"/>
<polygon points="562.9,1038.4 573.6,1047.7 649.2,1001.7 638.4,992.4" fill="#3e26a8" stroke="#000" stroke-width="3.4" stroke-linejoin="round"/>
<polygon points="692.3,1038.7 703.0,1047.9 778.6,880.5 767.8,992.7" fill="#3e26a8" stroke="#000" stroke-width="3.4" stroke-linejoin="round"/>
<polygon points="821.7,762.0 832.4,771.2 908.0,701.3 897.2,692.1" fill="#fccd30" stroke="#000" stroke-width="3.4" stroke-linejoin="round"/>
<polygon points="951.1,738.3 961.8,747.6 1037.3,690.8 1026.6,681.6" fill="#f5e721" stroke="#000" stroke-width="3.4" stroke-linejoin="round"/>
<polygon points="1080.5,727.8 1091.2,737.1 1166.7,683.9 1156.0,674.7" fill="#f9f414" stroke="#000" stroke-width="3.4" stroke-linejoin="round"/>
<polygon points="1209.9,740.5 1220.6,755.5 1296.1,816.8 1285.4,788.9" fill="#f5df26" stroke="#000" stroke-width="3.4" stroke-linejoin="round"/>
<polygon points="1339.2,966.3 1350.0,1049.2 1425.5,1003.3 1414.8,994.0" fill="#3e26a8" stroke="#000" stroke-width="3.4" stroke-linejoin="round"/>
<polygon points="1468.6,1040.2 1479.4,1049.5 1554.9,1003.5 1544.2,994.3" fill="#3e26a8" stroke="#000" stroke-width="3.4" stroke-linejoin="round"/>
<polygon points="573.6,1047.7 584.4,1056.9 659.9,1010.9 649.2,1001.7" fill="#3e26a8" stroke="#000" stroke-width="3.4" stroke-linejoin="round"/>
<polygon points="703.0,1047.9 713.8,1057.2 789.3,790.2 778.6,880.5" fill="#3e26a8" stroke="#000" stroke-width="3.4" stroke-linejoin="round"/>
<polygon points="832.4,771.2 843.2,780.5 918.7,710.6 908.0,701.3" fill="#fccd30" stroke="#000" stroke-width="3.4" stroke-linejoin="round"/>
<polygon points="961.8,747.6 972.6,756.8 1048.1,700.1 1037.3,690.8" fill="#f5e721" stroke="#000" stroke-width="3.4" stroke-linejoin="round"/>
<polygon points="1091.2,737.1 1102.0,746.3 1177.5,696.3 1166.7,683.9" fill="#f9f414" stroke="#000" stroke-width="3.4" stroke-linejoin="round"/>
<polygon points="1220.6,755.5 1231.4,770.5 1306.9,846.8 1296.1,816.8" fill="#f6d829" stroke="#000" stroke-width="3.4" stroke-linejoin="round"/>
<polygon points="1350.0,1049.2 1360.8,1058.5 1436.3,1012.5 1425.5,1003.3" fill="#3e26a8" stroke="#000" stroke-width="3.4" stroke-linejoin="round"/>
<polygon points="1479.4,1049.5 1490.2,1058.7 1565.7,1012.8 1554.9,1003.5" fill="#3e26a8" stroke="#000" stroke-width="3.4" stroke-linejoin="round"/>
<polygon points="584.4,1056.9 595.2,1066.2 670.7,1020.2 659.9,1010.9" fill="#3e26a8" stroke="#000" stroke-width="3.4" stroke-linejoin="round"/>
<polygon points="713.8,1057.2 724.6,833.5 800.1,743.5 789.3,790.2" fill="#c7c129" stroke="#000" stroke-width="3.4" stroke-linejoin="round"/>
<polygon points="843.2,780.5 854.0,789.7 929.5,719.8 918.7,710.6" fill="#fccd30" stroke="#000" stroke-width="3.4" stroke-linejoin="round"/>
<polygon points="972.6,756.8 983.4,766.1 1058.9,709.3 1048.1,700.1" fill="#f5e721" stroke="#000" stroke-width="3.4" stroke-linejoin="round"/>
<polygon points="1102.0,746.3 1112.8,755.6 1188.3,711.0 1177.5,696.3" fill="#f9f414" stroke="#000" stroke-width="3.4" stroke-linejoin="round"/>
<polygon points="1231.4,770.5 1242.2,785.7 1317.7,879.9 1306.9,846.8" fill="#fad22d" stroke="#000" stroke-width="3.4" stroke-linejoin="round"/>
<polygon points="1360.8,1058.5 1371.6,1067.7 1447.1,1021.8 1436.3,1012.5" fill="#3e26a8" stroke="#000" stroke-width="3.4" stroke-linejoin="round"/>
<polygon points="595.2,1066.2 606.0,1075.4 681.5,1029.4 670.7,1020.2" fill="#3e26a8" stroke="#000" stroke-width="3.4" stroke-linejoin="round"/>
<polygon points="724.6,833.5 735.4,842.5 810.9,752.7 800.1,743.5" fill="#c7c129" stroke="#000" stroke-width="3.4" stroke-linejoin="round"/>
<polygon points="854.0,789.7 864.8,799.0 940.3,729.1 929.5,719.8" fill="#fccd30" stroke="#000" stroke-width="3.4" stroke-linejoin="round"/>
<polygon points="983.4,766.1 994.2,775.3 1069.7,718.6 1058.9,709.3" fill="#f5e721" stroke="#000" stroke-width="3.4" stroke-linejoin="round"/>
<polygon points="1112.8,755.6 1123.6,764.8 1199.1,725.7 1188.3,711.0" fill="#f9f414" stroke="#000" stroke-width="3.4" stroke-linejoin="round"/>
<polygon points="1242.2,785.7 1253.0,801.0 1328.5,917.9 1317.7,879.9" fill="#fdcc31" stroke="#000" stroke-width="3.4" stroke-linejoin="round"/>
<polygon points="1371.6,1067.7 1382.4,1077.0 1457.9,1031.0 1447.1,1021.8" fill="#3e26a8" stroke="#000" stroke-width="3.4" stroke-linejoin="round"/>
<polygon points="606.0,1075.4 616.8,1084.7 692.3,1038.7 681.5,1029.4" fill="#3e26a8" stroke="#000" stroke-width="3.4" stroke-linejoin="round"/>
<polygon points="735.4,842.5 746.2,851.8 821.7,762.0 810.9,752.7" fill="#c7c129" stroke="#000" stroke-width="3.4" stroke-linejoin="round"/>
<polygon points="864.8,799.0 875.5,808.2 951.1,738.3 940.3,729.1" fill="#fccd30" stroke="#000" stroke-width="3.4" stroke-linejoin="round"/>
<polygon points="994.2,775.3 1004.9,784.6 1080.5,727.8 1069.7,718.6" fill="#f5e721" stroke="#000" stroke-width="3.4" stroke-linejoin="round"/>
<polygon points="1123.6,764.8 1134.3,774.1 1209.9,740.5 1199.1,725.7" fill="#f9f414" stroke="#000" stroke-width="3.4" stroke-linejoin="round"/>
<polygon points="1253.0,801.0 1263.7,816.4 1339.2,966.3 1328.5,917.9" fill="#fec536" stroke="#000" stroke-width="3.4" stroke-linejoin="round"/>
<polygon points="1382.4,1077.0 1393.1,1086.2 1468.6,1040.2 1457.9,1031.0" fill="#3e26a8" stroke="#000" stroke-width="3.4" stroke-linejoin="round"/>
<polygon points="616.8,1084.7 627.5,1093.9 703.0,1047.9 692.3,1038.7" fill="#3e26a8" stroke="#000" stroke-width="3.4" stroke-linejoin="round"/>
<polygon points="746.2,851.8 756.9,861.0 832.4,771.2 821.7,762.0" fill="#c7c129" stroke="#000" stroke-width="3.4" stroke-linejoin="round"/>
<polygon points="875.5,808.2 886.3,817.5 961.8,747.6 951.1,738.3" fill="#fccd30" stroke="#000" stroke-width="3.4" stroke-linejoin="round"/>
<polygon points="1004.9,784.6 1015.7,793.8 1091.2,737.1 1080.5,727.8" fill="#f5e721" stroke="#000" stroke-width="3.4" stroke-linejoin="round"/>
<polygon points="1134.3,774.1 1145.1,783.3 1220.6,755.5 1209.9,740.5" fill="#f9f414" stroke="#000" stroke-width="3.4" stroke-linejoin="round"/>
<polygon points="1263.7,816.4 1274.5,832.0 1350.0,1049.2 1339.2,966.3" fill="#febf3b" stroke="#000" stroke-width="3.4" stroke-linejoin="round"/>
<polygon points="1393.1,1086.2 1403.9,1095.5 1479.4,1049.5 1468.6,1040.2" fill="#3e26a8" stroke="#000" stroke-width="3.4" stroke-linejoin="round"/>
<polygon points="627.5,1093.9 638.3,1103.1 713.8,1057.2 703.0,1047.9" fill="#3e26a8" stroke="#000" stroke-width="3.4" stroke-linejoin="round"/>
<polygon points="756.9,861.0 767.7,870.3 843.2,780.5 832.4,771.2" fill="#c7c129" stroke="#000" stroke-width="3.4" stroke-linejoin="round"/>
<polygon points="886.3,817.5 897.1,826.7 972.6,756.8 961.8,747.6" fill="#fccd30" stroke="#000" stroke-width="3.4" stroke-linejoin="round"/>
<polygon points="1015.7,793.8 1026.5,803.1 1102.0,746.3 1091.2,737.1" fill="#f5e721" stroke="#000" stroke-width="3.4" stroke-linejoin="round"/>
<polygon points="1145.1,783.3 1155.9,792.6 1231.4,770.5 1220.6,755.5" fill="#f9f414" stroke="#000" stroke-width="3.4" stroke-linejoin="round"/>
<polygon points="1274.5,832.0 1285.3,847.7 1360.8,1058.5 1350.0,1049.2" fill="#f7ba3d" stroke="#000" stroke-width="3.4" stroke-linejoin="round"/>
<polygon points="1403.9,1095.5 1414.7,1104.7 1490.2,1058.7 1479.4,1049.5" fill="#3e26a8" stroke="#000" stroke-width="3.4" stroke-linejoin="round"/>
<polygon points="638.3,1103.1 649.1,1112.4 724.6,833.5 713.8,1057.2" fill="#3e26a8" stroke="#000" stroke-width="3.4" stroke-linejoin="round"/>
<polygon points="767.7,870.3 778.5,879.5 854.0,789.7 843.2,780.5" fill="#c7c129" stroke="#000" stroke-width="3.4" stroke-linejoin="round"/>
<polygon points="897.1,826.7 907.9,836.0 983.4,766.1 972.6,756.8" fill="#fccd30" stroke="#000" stroke-width="3.4" stroke-linejoin="round"/>
<polygon points="1026.5,803.1 1037.3,812.3 1112.8,755.6 1102.0,746.3" fill="#f5e721" stroke="#000" stroke-width="3.4" stroke-linejoin="round"/>
<polygon points="1155.9,792.6 1166.7,801.8 1242.2,785.7 1231.4,770.5" fill="#f9f414" stroke="#000" stroke-width="3.4" stroke-linejoin="round"/>
<polygon points="1285.3,847.7 1296.1,863.6 1371.6,1067.7 1360.8,1058.5" fill="#ecba32" stroke="#000" stroke-width="3.4" stroke-linejoin="round"/>
<polygon points="649.1,1112.4 659.9,1121.6 735.4,842.5 724.6,833.5" fill="#3e26a8" stroke="#000" stroke-width="3.4" stroke-linejoin="round"/>
<polygon points="778.5,879.5 789.3,888.8 864.8,799.0 854.0,789.7" fill="#c7c129" stroke="#000" stroke-width="3.4" stroke-linejoin="round"/>
<polygon points="907.9,836.0 918.7,845.2 994.2,775.3 983.4,766.1" fill="#fccd30" stroke="#000" stroke-width="3.4" stroke-linejoin="round"/>
<polygon points="1037.3,812.3 1048.1,821.6 1123.6,764.8 1112.8,755.6" fill="#f5e721" stroke="#000" stroke-width="3.4" stroke-linejoin="round"/>
<polygon points="1166.7,801.8 1177.4,811.1 1253.0,801.0 1242.2,785.7" fill="#f9f414" stroke="#000" stroke-width="3.4" stroke-linejoin="round"/>
<polygon points="1296.1,863.6 1306.8,879.7 1382.4,1077.0 1371.6,1067.7" fill="#debc29" stroke="#000" stroke-width="3.4" stroke-linejoin="round"/>
<polygon points="659.9,1121.6 670.6,1130.9 746.2,851.8 735.4,842.5" fill="#3e26a8" stroke="#000" stroke-width="3.4" stroke-linejoin="round"/>
<polygon points="789.3,888.8 800.0,898.0 875.5,808.2 864.8,799.0" fill="#c7c129" stroke="#000" stroke-width="3.4" stroke-linejoin="round"/>
<polygon points="918.7,845.2 929.4,854.5 1004.9,784.6 994.2,775.3" fill="#fccd30" stroke="#000" stroke-width="3.4" stroke-linejoin="round"/>
<polygon points="1048.1,821.6 1058.8,830.8 1134.3,774.1 1123.6,764.8" fill="#f5e721" stroke="#000" stroke-width="3.4" stroke-linejoin="round"/>
<polygon points="1177.4,811.1 1188.2,820.3 1263.7,816.4 1253.0,801.0" fill="#f9f414" stroke="#000" stroke-width="3.4" stroke-linejoin="round"/>
<polygon points="1306.8,879.7 1317.6,896.0 1393.1,1086.2 1382.4,1077.0" fill="#cfc027" stroke="#000" stroke-width="3.4" stroke-linejoin="round"/>
<polygon points="670.6,1130.9 681.4,1140.1 756.9,861.0 746.2,851.8" fill="#3e26a8" stroke="#000" stroke-width="3.4" stroke-linejoin="round"/>
<polygon points="800.0,898.0 810.8,907.3 886.3,817.5 875.5,808.2" fill="#c7c129" stroke="#000" stroke-width="3.4" stroke-linejoin="round"/>
<polygon points="929.4,854.5 940.2,863.7 1015.7,793.8 1004.9,784.6" fill="#fccd30" stroke="#000" stroke-width="3.4" stroke-linejoin="round"/>
<polygon points="1058.8,830.8 1069.6,840.1 1145.1,783.3 1134.3,774.1" fill="#f5e721" stroke="#000" stroke-width="3.4" stroke-linejoin="round"/>
<polygon points="1188.2,820.3 1199.0,829.6 1274.5,832.0 1263.7,816.4" fill="#f9f414" stroke="#000" stroke-width="3.4" stroke-linejoin="round"/>
<polygon points="1317.6,896.0 1328.4,912.5 1403.9,1095.5 1393.1,1086.2" fill="#bdc42e" stroke="#000" stroke-width="3.4" stroke-linejoin="round"/>
<polygon points="681.4,1140.1 692.2,1149.4 767.7,870.3 756.9,861.0" fill="#3e26a8" stroke="#000" stroke-width="3.4" stroke-linejoin="round"/>
<polygon points="810.8,907.3 821.6,916.5 897.1,826.7 886.3,817.5" fill="#c7c129" stroke="#000" stroke-width="3.4" stroke-linejoin="round"/>
<polygon points="940.2,863.7 951.0,873.0 1026.5,803.1 1015.7,793.8" fill="#fccd30" stroke="#000" stroke-width="3.4" stroke-linejoin="round"/>
<polygon points="1069.6,840.1 1080.4,849.3 1155.9,792.6 1145.1,783.3" fill="#f5e721" stroke="#000" stroke-width="3.4" stroke-linejoin="round"/>
<polygon points="1199.0,829.6 1209.8,838.8 1285.3,847.7 1274.5,832.0" fill="#f9f414" stroke="#000" stroke-width="3.4" stroke-linejoin="round"/>
<polygon points="1328.4,912.5 1339.2,929.2 1414.7,1104.7 1403.9,1095.5" fill="#a9c73b" stroke="#000" stroke-width="3.4" stroke-linejoin="round"/>
<polygon points="692.2,1149.4 703.0,1158.6 778.5,879.5 767.7,870.3" fill="#3e26a8" stroke="#000" stroke-width="3.4" stroke-linejoin="round"/>
<polygon points="821.6,916.5 832.4,925.8 907.9,836.0 897.1,826.7" fill="#c7c129" stroke="#000" stroke-width="3.4" stroke-linejoin="round"/>
<polygon points="951.0,873.0 961.8,882.2 1037.3,812.3 1026.5,803.1" fill="#fccd30" stroke="#000" stroke-width="3.4" stroke-linejoin="round"/>
<polygon points="1080.4,849.3 1091.2,858.6 1166.7,801.8 1155.9,792.6" fill="#f5e721" stroke="#000" stroke-width="3.4" stroke-linejoin="round"/>
<polygon points="1209.8,838.8 1220.6,848.1 1296.1,863.6 1285.3,847.7" fill="#f9f414" stroke="#000" stroke-width="3.4" stroke-linejoin="round"/>
<polygon points="703.0,1158.6 713.8,1167.9 789.3,888.8 778.5,879.5" fill="#3e26a8" stroke="#000" stroke-width="3.4" stroke-linejoin="round"/>
<polygon points="832.4,925.8 843.1,935.0 918.7,845.2 907.9,836.0" fill="#c7c129" stroke="#000" stroke-width="3.4" stroke-linejoin="round"/>
<polygon points="961.8,882.2 972.5,891.4 1048.1,821.6 1037.3,812.3" fill="#fccd30" stroke="#000" stroke-width="3.4" stroke-linejoin="round"/>
<polygon points="1091.2,858.6 1101.9,867.8 1177.4,811.1 1166.7,801.8" fill="#f5e721" stroke="#000" stroke-width="3.4" stroke-linejoin="round"/>
<polygon points="1220.6,848.1 1231.3,857.3 1306.8,879.7 1296.1,863.6" fill="#f9f414" stroke="#000" stroke-width="3.4" stroke-linejoin="round"/>
<polygon points="713.8,1167.9 724.5,1177.1 800.0,898.0 789.3,888.8" fill="#3e26a8" stroke="#000" stroke-width="3.4" stroke-linejoin="round"/>
<polygon points="843.1,935.0 853.9,944.3 929.4,854.5 918.7,845.2" fill="#c7c129" stroke="#000" stroke-width="3.4" stroke-linejoin="round"/>
<polygon points="972.5,891.4 983.3,900.7 1058.8,830.8 1048.1,821.6" fill="#fccd30" stroke="#000" stroke-width="3.4" stroke-linejoin="round"/>
<polygon points="1101.9,867.8 1112.7,877.0 1188.2,820.3 1177.4,811.1" fill="#f5e721" stroke="#000" stroke-width="3.4" stroke-linejoin="round"/>
<polygon points="1231.3,857.3 1242.1,866.6 1317.6,896.0 1306.8,879.7" fill="#f9f414" stroke="#000" stroke-width="3.4" stroke-linejoin="round"/>
<polygon points="724.5,1177.1 735.3,1186.4 810.8,907.3 800.0,898.0" fill="#3e26a8" stroke="#000" stroke-width="3.4" stroke-linejoin="round"/>
<polygon points="853.9,944.3 864.7,953.5 940.2,863.7 929.4,854.5" fill="#c7c129" stroke="#000" stroke-width="3.4" stroke-linejoin="round"/>
<polygon points="983.3,900.7 994.1,909.9 1069.6,840.1 1058.8,830.8" fill="#fccd30" stroke="#000" stroke-width="3.4" stroke-linejoin="round"/>
<polygon points="1112.7,877.0 1123.5,886.3 1199.0,829.6 1188.2,820.3" fill="#f5e721" stroke="#000" stroke-width="3.4" stroke-linejoin="round"/>
<polygon points="1242.1,866.6 1252.9,875.8 1328.4,912.5 1317.6,896.0" fill="#f9f414" stroke="#000" stroke-width="3.4" stroke-linejoin="round"/>
<polygon points="735.3,1186.4 746.1,1195.6 821.6,916.5 810.8,907.3" fill="#3e26a8" stroke="#000" stroke-width="3.4" stroke-linejoin="round"/>
<polygon points="864.7,953.5 875.5,962.8 951.0,873.0 940.2,863.7" fill="#c7c129" stroke="#000" stroke-width="3.4" stroke-linejoin="round"/>
<polygon points="994.1,909.9 1004.9,919.2 1080.4,849.3 1069.6,840.1" fill="#fccd30" stroke="#000" stroke-width="3.4" stroke-linejoin="round"/>
<polygon points="1123.5,886.3 1134.3,895.5 1209.8,838.8 1199.0,829.6" fill="#f5e721" stroke="#000" stroke-width="3.4" stroke-linejoin="round"/>
<polygon points="1252.9,875.8 1263.7,885.0 1339.2,929.2 1328.4,912.5" fill="#f9f414" stroke="#000" stroke-width="3.4" stroke-linejoin="round"/>
<polygon points="746.1,1195.6 756.9,1204.9 832.4,925.8 821.6,916.5" fill="#3e26a8" stroke="#000" stroke-width="3.4" stroke-linejoin="round"/>
<polygon points="875.5,962.8 886.3,972.0 961.8,882.2 951.0,873.0" fill="#c7c129" stroke="#000" stroke-width="3.4" stroke-linejoin="round"/>
<polygon points="1004.9,919.2 1015.7,928.4 1091.2,858.6 1080.4,849.3" fill="#fccd30" stroke="#000" stroke-width="3.4" stroke-linejoin="round"/>
<polygon points="1134.3,895.5 1145.0,904.8 1220.6,848.1 1209.8,838.8" fill="#f5e721" stroke="#000" stroke-width="3.4" stroke-linejoin="round"/>
<polygon points="756.9,1204.9 767.6,1214.1 843.1,935.0 832.4,925.8" fill="#3e26a8" stroke="#000" stroke-width="3.4" stroke-linejoin="round"/>
<polygon points="886.3,972.0 897.0,981.3 972.5,891.4 961.8,882.2" fill="#c7c129" stroke="#000" stroke-width="3.4" stroke-linejoin="round"/>
<polygon points="1015.7,928.4 1026.4,937.7 1101.9,867.8 1091.2,858.6" fill="#fccd30" stroke="#000" stroke-width="3.4" stroke-linejoin="round"/>
<polygon points="1145.0,904.8 1155.8,914.0 1231.3,857.3 1220.6,848.1" fill="#f5e721" stroke="#000" stroke-width="3.4" stroke-linejoin="round"/>
<polygon points="767.6,1214.1 778.4,1223.4 853.9,944.3 843.1,935.0" fill="#3e26a8" stroke="#000" stroke-width="3.4" stroke-linejoin="round"/>
<polygon points="897.0,981.3 907.8,990.5 983.3,900.7 972.5,891.4" fill="#c7c129" stroke="#000" stroke-width="3.4" stroke-linejoin="round"/>
<polygon points="1026.4,937.7 1037.2,946.9 1112.7,877.0 1101.9,867.8" fill="#fccd30" stroke="#000" stroke-width="3.4" stroke-linejoin="round"/>
<polygon points="1155.8,914.0 1166.6,923.3 1242.1,866.6 1231.3,857.3" fill="#f5e721" stroke="#000" stroke-width="3.4" stroke-linejoin="round"/>
<polygon points="778.4,1223.4 789.2,1232.6 864.7,953.5 853.9,944.3" fill="#3e26a8" stroke="#000" stroke-width="3.4" stroke-linejoin="round"/>
<polygon points="907.8,990.5 918.6,999.8 994.1,909.9 983.3,900.7" fill="#c7c129" stroke="#000" stroke-width="3.4" stroke-linejoin="round"/>
<polygon points="1037.2,946.9 1048.0,956.2 1123.5,886.3 1112.7,877.0" fill="#fccd30" stroke="#000" stroke-width="3.4" stroke-linejoin="round"/>
<polygon points="1166.6,923.3 1177.4,932.5 1252.9,875.8 1242.1,866.6" fill="#f5e721" stroke="#000" stroke-width="3.4" stroke-linejoin="round"/>
<polygon points="789.2,1232.6 800.0,1241.9 875.5,962.8 864.7,953.5" fill="#3e26a8" stroke="#000" stroke-width="3.4" stroke-linejoin="round"/>
<polygon points="918.6,999.8 929.4,1009.0 1004.9,919.2 994.1,909.9" fill="#c7c129" stroke="#000" stroke-width="3.4" stroke-linejoin="round"/>
<polygon points="1048.0,956.2 1058.8,965.4 1134.3,895.5 1123.5,886.3" fill="#fccd30" stroke="#000" stroke-width="3.4" stroke-linejoin="round"/>
<polygon points="1177.4,932.5 1188.2,941.8 1263.7,885.0 1252.9,875.8" fill="#f5e721" stroke="#000" stroke-width="3.4" stroke-linejoin="round"/>
<polygon points="800.0,1241.9 810.7,1251.1 886.3,972.0 875.5,962.8" fill="#3e26a8" stroke="#000" stroke-width="3.4" stroke-linejoin="round"/>
<polygon points="929.4,1009.0 940.1,1018.3 1015.7,928.4 1004.9,919.2" fill="#c7c129" stroke="#000" stroke-width="3.4" stroke-linejoin="round"/>
<polygon points="1058.8,965.4 1069.5,974.7 1145.0,904.8 1134.3,895.5" fill="#fccd30" stroke="#000" stroke-width="3.4" stroke-linejoin="round"/>
<polygon points="810.7,1251.1 821.5,1260.4 897.0,981.3 886.3,972.0" fill="#3e26a8" stroke="#000" stroke-width="3.4" stroke-linejoin="round"/>
<polygon points="940.1,1018.3 950.9,1027.5 1026.4,937.7 1015.7,928.4" fill="#c7c129" stroke="#000" stroke-width="3.4" stroke-linejoin="round"/>
<polygon points="1069.5,974.7 1080.3,983.9 1155.8,914.0 1145.0,904.8" fill="#fccd30" stroke="#000" stroke-width="3.4" stroke-linejoin="round"/>
<polygon points="821.5,1260.4 832.3,1269.6 907.8,990.5 897.0,981.3" fill="#3e26a8" stroke="#000" stroke-width="3.4" stroke-linejoin="round"/>
<polygon points="950.9,1027.5 961.7,1036.7 1037.2,946.9 1026.4,937.7" fill="#c7c129" stroke="#000" stroke-width="3.4" stroke-linejoin="round"/>
<polygon points="1080.3,983.9 1091.1,993.2 1166.6,923.3 1155.8,914.0" fill="#fccd30" stroke="#000" stroke-width="3.4" stroke-linejoin="round"/>
<polygon points="832.3,1269.6 843.1,1278.9 918.6,999.8 907.8,990.5" fill="#3e26a8" stroke="#000" stroke-width="3.4" stroke-linejoin="round"/>
<polygon points="961.7,1036.7 972.5,1046.0 1048.0,956.2 1037.2,946.9" fill="#c7c129" stroke="#000" stroke-width="3.4" stroke-linejoin="round"/>
<polygon points="1091.1,993.2 1101.9,1002.4 1177.4,932.5 1166.6,923.3" fill="#fccd30" stroke="#000" stroke-width="3.4" stroke-linejoin="round"/>
<polygon points="843.1,1278.9 853.9,1288.1 929.4,1009.0 918.6,999.8" fill="#3e26a8" stroke="#000" stroke-width="3.4" stroke-linejoin="round"/>
<polygon points="972.5,1046.0 983.2,1055.2 1058.8,965.4 1048.0,956.2" fill="#c7c129" stroke="#000" stroke-width="3.4" stroke-linejoin="round"/>
<polygon points="1101.9,1002.4 1112.6,1011.7 1188.2,941.8 1177.4,932.5" fill="#fccd30" stroke="#000" stroke-width="3.4" stroke-linejoin="round"/>
<polygon points="853.9,1288.1 864.6,1297.4 940.1,1018.3 929.4,1009.0" fill="#3e26a8" stroke="#000" stroke-width="3.4" stroke-linejoin="round"/>
<polygon points="983.2,1055.2 994.0,1064.5 1069.5,974.7 1058.8,965.4" fill="#c7c129" stroke="#000" stroke-width="3.4" stroke-linejoin="round"/>
<polygon points="864.6,1297.4 875.4,1306.6 950.9,1027.5 940.1,1018.3" fill="#3e26a8" stroke="#000" stroke-width="3.4" stroke-linejoin="round"/>
<polygon points="994.0,1064.5 1004.8,1073.7 1080.3,983.9 1069.5,974.7" fill="#c7c129" stroke="#000" stroke-width="3.4" stroke-linejoin="round"/>
<polygon points="875.4,1306.6 886.2,1315.8 961.7,1036.7 950.9,1027.5" fill="#3e26a8" stroke="#000" stroke-width="3.4" stroke-linejoin="round"/>
<polygon points="1004.8,1073.7 1015.6,1083.0 1091.1,993.2 1080.3,983.9" fill="#c7c129" stroke="#000" stroke-width="3.4" stroke-linejoin="round"/>
<polygon points="886.2,1315.8 897.0,1325.1 972.5,1046.0 961.7,1036.7" fill="#3e26a8" stroke="#000" stroke-width="3.4" stroke-linejoin="round"/>
<polygon points="1015.6,1083.0 1026.4,1092.2 1101.9,1002.4 1091.1,993.2" fill="#c7c129" stroke="#000" stroke-width="3.4" stroke-linejoin="round"/>
<polygon points="897.0,1325.1 907.7,1334.3 983.2,1055.2 972.5,1046.0" fill="#3e26a8" stroke="#000" stroke-width="3.4" stroke-linejoin="round"/>
<polygon points="1026.4,1092.2 1037.1,1101.5 1112.6,1011.7 1101.9,1002.4" fill="#c7c129" stroke="#000" stroke-width="3.4" stroke-linejoin="round"/>
<polygon points="907.7,1334.3 918.5,1343.6 994.0,1064.5 983.2,1055.2" fill="#3e26a8" stroke="#000" stroke-width="3.4" stroke-linejoin="round"/>
<polygon points="918.5,1343.6 929.3,1352.8 1004.8,1073.7 994.0,1064.5" fill="#3e26a8" stroke="#000" stroke-width="3.4" stroke-linejoin="round"/>
<polygon points="929.3,1352.8 940.1,1362.1 1015.6,1083.0 1004.8,1073.7" fill="#3e26a8" stroke="#000" stroke-width="3.4" stroke-linejoin="round"/>
<polygon points="940.1,1362.1 950.8,1371.3 1026.4,1092.2 1015.6,1083.0" fill="#3e26a8" stroke="#000" stroke-width="3.4" stroke-linejoin="round"/>
<polygon points="950.8,1371.3 961.6,1380.6 1037.1,1101.5 1026.4,1092.2" fill="#3e26a8" stroke="#000" stroke-width="3.4" stroke-linejoin="round"/>
<defs><linearGradient id="pg" x1="0" y1="0" x2="1" y2="0"><stop offset="0.0000" stop-color="#3e26a8"/><stop offset="0.0156" stop-color="#402ab5"/><stop offset="0.0312" stop-color="#422ec0"/><stop offset="0.0469" stop-color="#4433cb"/><stop offset="0.0625" stop-color="#4537d6"/><stop offset="0.0781" stop-color="#463cde"/><stop offset="0.0938" stop-color="#4742e6"/><stop offset="0.1094" stop-color="#4847eb"/><stop offset="0.1250" stop-color="#484df0"/><stop offset="0.1406" stop-color="#4853f5"/><stop offset="0.1562" stop-color="#4758f8"/><stop offset="0.1719" stop-color="#465efb"/><stop offset="0.1875" stop-color="#4564fd"/><stop offset="0.2031" stop-color="#426afe"/><stop offset="0.2188" stop-color="#3e70ff"/><stop offset="0.2344" stop-color="#3876fe"/><stop offset="0.2500" stop-color="#317cfc"/><stop offset="0.2656" stop-color="#2f82f9"/><stop offset="0.2812" stop-color="#2d88f6"/><stop offset="0.2969" stop-color="#2d8df2"/><stop offset="0.3125" stop-color="#2a92ee"/><stop offset="0.3281" stop-color="#2797ea"/><stop offset="0.3438" stop-color="#259ce7"/><stop offset="0.3594" stop-color="#23a1e4"/><stop offset="0.3750" stop-color="#1fa6e2"/><stop offset="0.3906" stop-color="#1caadf"/><stop offset="0.4062" stop-color="#17aeda"/><stop offset="0.4219" stop-color="#10b2d5"/><stop offset="0.4375" stop-color="#06b5cf"/><stop offset="0.4531" stop-color="#00b8c8"/><stop offset="0.4688" stop-color="#03bbc2"/><stop offset="0.4844" stop-color="#0ebebb"/><stop offset="0.5000" stop-color="#1cc0b4"/><stop offset="0.5156" stop-color="#26c2ad"/><stop offset="0.5312" stop-color="#2dc4a5"/><stop offset="0.5469" stop-color="#33c69d"/><stop offset="0.5625" stop-color="#39c995"/><stop offset="0.5781" stop-color="#42ca8b"/><stop offset="0.5938" stop-color="#4ecc81"/><stop offset="0.6094" stop-color="#5bcc77"/><stop offset="0.6250" stop-color="#68cd6c"/><stop offset="0.6406" stop-color="#76cc60"/><stop offset="0.6562" stop-color="#85cb55"/><stop offset="0.6719" stop-color="#94ca4a"/><stop offset="0.6875" stop-color="#a2c83f"/><stop offset="0.7031" stop-color="#b0c636"/><stop offset="0.7188" stop-color="#bdc32e"/><stop offset="0.7344" stop-color="#cac128"/><stop offset="0.7500" stop-color="#d5be27"/><stop offset="0.7656" stop-color="#e0bc2a"/><stop offset="0.7812" stop-color="#eaba30"/><stop offset="0.7969" stop-color="#f3ba39"/><stop offset="0.8125" stop-color="#fbbb3e"/><stop offset="0.8281" stop-color="#fec03b"/><stop offset="0.8438" stop-color="#fec536"/><stop offset="0.8594" stop-color="#fdca32"/><stop offset="0.8750" stop-color="#fbcf2f"/><stop offset="0.8906" stop-color="#f8d42c"/><stop offset="0.9062" stop-color="#f6da29"/><stop offset="0.9219" stop-color="#f5df26"/><stop offset="0.9375" stop-color="#f5e523"/><stop offset="0.9531" stop-color="#f6eb1e"/><stop offset="0.9688" stop-color="#f8f118"/><stop offset="0.9844" stop-color="#faf610"/><stop offset="1.0000" stop-color="#f9fd03"/></linearGradient></defs>
<rect x="198.5" y="1614.5" width="1512.0" height="95.0" fill="url(#pg)" stroke="#262626" stroke-width="2.6"/>
<line x1="576.5" y1="1709.5" x2="576.5" y2="1692.5" stroke="#262626" stroke-width="3"/>
<line x1="954.5" y1="1709.5" x2="954.5" y2="1692.5" stroke="#262626" stroke-width="3"/>
<line x1="1332.5" y1="1709.5" x2="1332.5" y2="1692.5" stroke="#262626" stroke-width="3"/>
<text x="173.4" y="470.5" font-size="87.16" textLength="170.0" lengthAdjust="spacingAndGlyphs" font-family="'Liberation Serif', serif" fill="#262626">1000</text>
<text x="214.9" y="669.1" font-size="87.12" textLength="128.6" lengthAdjust="spacingAndGlyphs" font-family="'Liberation Serif', serif" fill="#262626">500</text>
<text x="298.8" y="866.3" font-size="89.39" textLength="45.0" lengthAdjust="spacingAndGlyphs" font-family="'Liberation Serif', serif" fill="#262626">0</text>
<text x="250.0" y="986.1" font-size="88.64" textLength="88.1" lengthAdjust="spacingAndGlyphs" font-family="'Liberation Serif', serif" fill="#262626">50</text>
<text x="595.8" y="1248.8" font-size="89.70" textLength="45.4" lengthAdjust="spacingAndGlyphs" font-family="'Liberation Serif', serif" fill="#262626">0</text>
<text x="813.7" y="1510.4" font-size="87.42" textLength="129.4" lengthAdjust="spacingAndGlyphs" font-family="'Liberation Serif', serif" fill="#262626">−50</text>
<text x="1061.1" y="1497.8" font-size="87.42" textLength="128.2" lengthAdjust="spacingAndGlyphs" font-family="'Liberation Serif', serif" fill="#262626">−20</text>
<text x="1408.7" y="1287.2" font-size="86.21" textLength="43.0" lengthAdjust="spacingAndGlyphs" font-family="'Liberation Serif', serif" fill="#262626">0</text>
<text x="1750.1" y="1077.1" font-size="86.21" textLength="86.0" lengthAdjust="spacingAndGlyphs" font-family="'Liberation Serif', serif" fill="#262626">20</text>
<text x="176.8" y="1812.2" font-size="83.18" textLength="43.4" lengthAdjust="spacingAndGlyphs" font-family="'Liberation Serif', serif" fill="#262626">0</text>
<text x="518.9" y="1812.2" font-size="83.18" textLength="116.1" lengthAdjust="spacingAndGlyphs" font-family="'Liberation Serif', serif" fill="#262626">200</text>
<text x="898.5" y="1812.2" font-size="83.18" textLength="114.3" lengthAdjust="spacingAndGlyphs" font-family="'Liberation Serif', serif" fill="#262626">400</text>
<text x="1276.6" y="1812.2" font-size="83.18" textLength="116.1" lengthAdjust="spacingAndGlyphs" font-family="'Liberation Serif', serif" fill="#262626">600</text>
<text x="1654.3" y="1812.2" font-size="83.18" textLength="115.7" lengthAdjust="spacingAndGlyphs" font-family="'Liberation Serif', serif" fill="#262626">800</text>
<text x="29.4" y="1343.8" font-size="98.00" textLength="789.9" lengthAdjust="spacingAndGlyphs" font-family="'Liberation Serif', serif" fill="#262626">Station Off Plane(°)</text>
<text x="1186.5" y="1412.5" font-size="99.20" textLength="683.2" lengthAdjust="spacingAndGlyphs" font-family="'Liberation Serif', serif" fill="#262626">Sat Roll Angle(°)</text>
<text transform="translate(96.8,1149.1) rotate(-90)" font-size="97.50" textLength="925.9" lengthAdjust="spacingAndGlyphs" font-family="'Liberation Serif', serif" fill="#262626">Data Trans Window(s)</text>
</svg></body></html>
